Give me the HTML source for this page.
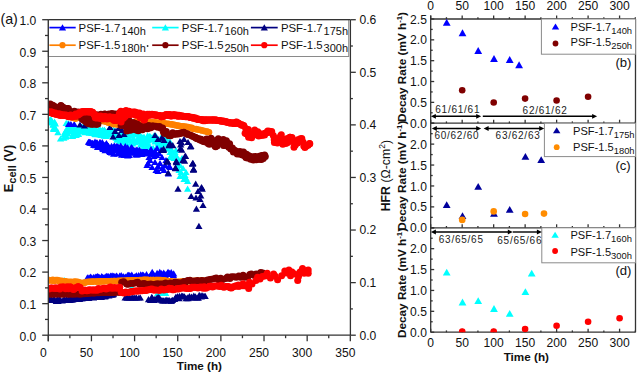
<!DOCTYPE html>
<html><head><meta charset="utf-8"><style>
html,body{margin:0;padding:0;background:#fff;width:637px;height:373px;overflow:hidden;}
svg{display:block;}
text{font-family:"Liberation Sans",sans-serif;}
</style></head><body><svg width="637" height="373" viewBox="0 0 637 373" font-family='"Liberation Sans", sans-serif'><defs><clipPath id="cpm"><rect x="48.3" y="19.7" width="302" height="315.5"/></clipPath></defs><g clip-path="url(#cpm)"><path d="M48.6 117.4L52.2 123.6L45.0 123.6Z" fill="#00ffff"/><path d="M48.5 118.6L52.1 124.8L44.9 124.8Z" fill="#00ffff"/><path d="M49.8 118.7L53.4 124.9L46.2 124.9Z" fill="#00ffff"/><path d="M50.0 116.6L53.6 122.8L46.4 122.8Z" fill="#00ffff"/><path d="M50.9 116.6L54.5 122.8L47.3 122.8Z" fill="#00ffff"/><path d="M50.5 116.8L54.1 123.0L46.9 123.0Z" fill="#00ffff"/><path d="M52.4 119.2L56.0 125.4L48.8 125.4Z" fill="#00ffff"/><path d="M51.7 117.3L55.3 123.5L48.1 123.5Z" fill="#00ffff"/><path d="M53.5 121.6L57.1 127.8L49.9 127.8Z" fill="#00ffff"/><path d="M52.9 121.2L56.5 127.4L49.3 127.4Z" fill="#00ffff"/><path d="M53.5 125.9L57.1 132.1L49.9 132.1Z" fill="#00ffff"/><path d="M53.7 124.8L57.3 131.0L50.1 131.0Z" fill="#00ffff"/><path d="M54.5 118.6L58.1 124.8L50.9 124.8Z" fill="#00ffff"/><path d="M55.4 120.3L59.0 126.5L51.8 126.5Z" fill="#00ffff"/><path d="M55.8 125.4L59.4 131.6L52.2 131.6Z" fill="#00ffff"/><path d="M57.9 129.1L61.5 135.3L54.3 135.3Z" fill="#00ffff"/><path d="M60.5 135.4L64.1 141.6L56.9 141.6Z" fill="#00ffff"/><path d="M63.8 134.5L67.4 140.7L60.2 140.7Z" fill="#00ffff"/><path d="M64.1 131.1L67.7 137.3L60.5 137.3Z" fill="#00ffff"/><path d="M64.9 128.8L68.5 135.0L61.3 135.0Z" fill="#00ffff"/><path d="M65.5 133.5L69.1 139.7L61.9 139.7Z" fill="#00ffff"/><path d="M66.2 127.0L69.8 133.2L62.6 133.2Z" fill="#00ffff"/><path d="M66.2 119.8L69.8 126.0L62.6 126.0Z" fill="#00ffff"/><path d="M67.6 129.8L71.2 136.0L64.0 136.0Z" fill="#00ffff"/><path d="M66.7 132.7L70.3 138.9L63.1 138.9Z" fill="#00ffff"/><path d="M68.2 125.6L71.8 131.8L64.6 131.8Z" fill="#00ffff"/><path d="M68.0 120.0L71.6 126.2L64.4 126.2Z" fill="#00ffff"/><path d="M68.5 122.5L72.1 128.7L64.9 128.7Z" fill="#00ffff"/><path d="M69.3 120.9L72.9 127.1L65.7 127.1Z" fill="#00ffff"/><path d="M69.7 122.2L73.3 128.4L66.1 128.4Z" fill="#00ffff"/><path d="M70.4 125.9L74.0 132.1L66.8 132.1Z" fill="#00ffff"/><path d="M70.9 121.8L74.5 128.0L67.3 128.0Z" fill="#00ffff"/><path d="M71.5 128.1L75.1 134.3L67.9 134.3Z" fill="#00ffff"/><path d="M72.4 131.4L76.0 137.6L68.8 137.6Z" fill="#00ffff"/><path d="M71.9 124.6L75.5 130.8L68.3 130.8Z" fill="#00ffff"/><path d="M73.5 125.7L77.1 131.9L69.9 131.9Z" fill="#00ffff"/><path d="M72.6 132.8L76.2 139.0L69.0 139.0Z" fill="#00ffff"/><path d="M73.7 123.8L77.3 130.0L70.1 130.0Z" fill="#00ffff"/><path d="M74.0 124.5L77.6 130.7L70.4 130.7Z" fill="#00ffff"/><path d="M74.7 128.3L78.3 134.5L71.1 134.5Z" fill="#00ffff"/><path d="M74.9 122.3L78.5 128.5L71.3 128.5Z" fill="#00ffff"/><path d="M76.1 126.2L79.7 132.4L72.5 132.4Z" fill="#00ffff"/><path d="M76.2 131.7L79.8 137.9L72.6 137.9Z" fill="#00ffff"/><path d="M77.1 127.5L80.7 133.7L73.5 133.7Z" fill="#00ffff"/><path d="M76.5 129.0L80.1 135.2L72.9 135.2Z" fill="#00ffff"/><path d="M78.3 130.7L81.9 136.9L74.7 136.9Z" fill="#00ffff"/><path d="M78.4 130.5L82.0 136.7L74.8 136.7Z" fill="#00ffff"/><path d="M78.9 126.4L82.5 132.6L75.3 132.6Z" fill="#00ffff"/><path d="M79.2 124.1L82.8 130.3L75.6 130.3Z" fill="#00ffff"/><path d="M79.5 123.9L83.1 130.1L75.9 130.1Z" fill="#00ffff"/><path d="M79.6 125.0L83.2 131.2L76.0 131.2Z" fill="#00ffff"/><path d="M80.5 126.0L84.1 132.2L76.9 132.2Z" fill="#00ffff"/><path d="M80.6 123.5L84.2 129.7L77.0 129.7Z" fill="#00ffff"/><path d="M81.8 124.3L85.4 130.5L78.2 130.5Z" fill="#00ffff"/><path d="M82.4 123.8L86.0 130.0L78.8 130.0Z" fill="#00ffff"/><path d="M82.6 127.8L86.2 134.0L79.0 134.0Z" fill="#00ffff"/><path d="M82.8 125.4L86.4 131.6L79.2 131.6Z" fill="#00ffff"/><path d="M83.5 126.1L87.1 132.3L79.9 132.3Z" fill="#00ffff"/><path d="M84.6 129.1L88.2 135.3L81.0 135.3Z" fill="#00ffff"/><path d="M85.0 126.7L88.6 132.9L81.4 132.9Z" fill="#00ffff"/><path d="M84.5 124.5L88.1 130.7L80.9 130.7Z" fill="#00ffff"/><path d="M85.7 126.1L89.3 132.3L82.1 132.3Z" fill="#00ffff"/><path d="M85.6 128.9L89.2 135.1L82.0 135.1Z" fill="#00ffff"/><path d="M87.5 124.4L91.1 130.6L83.9 130.6Z" fill="#00ffff"/><path d="M86.6 127.3L90.2 133.5L83.0 133.5Z" fill="#00ffff"/><path d="M87.4 127.5L91.0 133.7L83.8 133.7Z" fill="#00ffff"/><path d="M88.6 127.4L92.2 133.6L85.0 133.6Z" fill="#00ffff"/><path d="M89.2 129.5L92.8 135.7L85.6 135.7Z" fill="#00ffff"/><path d="M88.8 126.0L92.4 132.2L85.2 132.2Z" fill="#00ffff"/><path d="M90.3 125.6L93.9 131.8L86.7 131.8Z" fill="#00ffff"/><path d="M90.3 127.7L93.9 133.9L86.7 133.9Z" fill="#00ffff"/><path d="M90.7 126.7L94.3 132.9L87.1 132.9Z" fill="#00ffff"/><path d="M91.6 129.5L95.2 135.7L88.0 135.7Z" fill="#00ffff"/><path d="M92.4 129.8L96.0 136.0L88.8 136.0Z" fill="#00ffff"/><path d="M92.3 129.6L95.9 135.8L88.7 135.8Z" fill="#00ffff"/><path d="M93.0 126.3L96.6 132.5L89.4 132.5Z" fill="#00ffff"/><path d="M92.4 127.1L96.0 133.3L88.8 133.3Z" fill="#00ffff"/><path d="M93.7 125.2L97.3 131.4L90.1 131.4Z" fill="#00ffff"/><path d="M94.2 126.6L97.8 132.8L90.6 132.8Z" fill="#00ffff"/><path d="M94.9 130.8L98.5 137.0L91.3 137.0Z" fill="#00ffff"/><path d="M95.6 130.7L99.2 136.9L92.0 136.9Z" fill="#00ffff"/><path d="M95.8 131.0L99.4 137.2L92.2 137.2Z" fill="#00ffff"/><path d="M95.7 126.5L99.3 132.7L92.1 132.7Z" fill="#00ffff"/><path d="M96.6 126.5L100.2 132.7L93.0 132.7Z" fill="#00ffff"/><path d="M97.5 129.1L101.1 135.3L93.9 135.3Z" fill="#00ffff"/><path d="M98.0 130.5L101.6 136.7L94.4 136.7Z" fill="#00ffff"/><path d="M98.4 129.4L102.0 135.6L94.8 135.6Z" fill="#00ffff"/><path d="M99.2 126.0L102.8 132.2L95.6 132.2Z" fill="#00ffff"/><path d="M99.3 131.1L102.9 137.3L95.7 137.3Z" fill="#00ffff"/><path d="M100.0 130.2L103.6 136.4L96.4 136.4Z" fill="#00ffff"/><path d="M100.3 126.6L103.9 132.8L96.7 132.8Z" fill="#00ffff"/><path d="M101.4 127.7L105.0 133.9L97.8 133.9Z" fill="#00ffff"/><path d="M100.9 131.8L104.5 138.0L97.3 138.0Z" fill="#00ffff"/><path d="M102.5 128.3L106.1 134.5L98.9 134.5Z" fill="#00ffff"/><path d="M101.6 130.4L105.2 136.6L98.0 136.6Z" fill="#00ffff"/><path d="M102.6 126.5L106.2 132.7L99.0 132.7Z" fill="#00ffff"/><path d="M103.4 131.8L107.0 138.0L99.8 138.0Z" fill="#00ffff"/><path d="M104.4 126.7L108.0 132.9L100.8 132.9Z" fill="#00ffff"/><path d="M104.2 132.6L107.8 138.8L100.6 138.8Z" fill="#00ffff"/><path d="M105.1 128.3L108.7 134.5L101.5 134.5Z" fill="#00ffff"/><path d="M104.4 126.7L108.0 132.9L100.8 132.9Z" fill="#00ffff"/><path d="M106.2 132.9L109.8 139.1L102.6 139.1Z" fill="#00ffff"/><path d="M106.5 129.7L110.1 135.9L102.9 135.9Z" fill="#00ffff"/><path d="M107.4 129.1L111.0 135.3L103.8 135.3Z" fill="#00ffff"/><path d="M106.7 132.1L110.3 138.3L103.1 138.3Z" fill="#00ffff"/><path d="M107.8 127.9L111.4 134.1L104.2 134.1Z" fill="#00ffff"/><path d="M108.1 127.8L111.7 134.0L104.5 134.0Z" fill="#00ffff"/><path d="M108.9 128.0L112.5 134.2L105.3 134.2Z" fill="#00ffff"/><path d="M109.5 127.0L113.1 133.2L105.9 133.2Z" fill="#00ffff"/><path d="M109.9 129.0L113.5 135.2L106.3 135.2Z" fill="#00ffff"/><path d="M110.5 130.9L114.1 137.1L106.9 137.1Z" fill="#00ffff"/><path d="M111.5 129.8L115.1 136.0L107.9 136.0Z" fill="#00ffff"/><path d="M111.0 130.5L114.6 136.7L107.4 136.7Z" fill="#00ffff"/><path d="M111.4 130.9L115.0 137.1L107.8 137.1Z" fill="#00ffff"/><path d="M111.6 130.2L115.2 136.4L108.0 136.4Z" fill="#00ffff"/><path d="M113.4 126.4L117.0 132.6L109.8 132.6Z" fill="#00ffff"/><path d="M113.0 128.0L116.6 134.2L109.4 134.2Z" fill="#00ffff"/><path d="M114.1 133.4L117.7 139.6L110.5 139.6Z" fill="#00ffff"/><path d="M114.0 129.6L117.6 135.8L110.4 135.8Z" fill="#00ffff"/><path d="M115.3 132.1L118.9 138.3L111.7 138.3Z" fill="#00ffff"/><path d="M115.1 127.6L118.7 133.8L111.5 133.8Z" fill="#00ffff"/><path d="M115.7 129.2L119.3 135.4L112.1 135.4Z" fill="#00ffff"/><path d="M116.0 134.6L119.6 140.8L112.4 140.8Z" fill="#00ffff"/><path d="M117.3 132.7L120.9 138.9L113.7 138.9Z" fill="#00ffff"/><path d="M116.9 136.5L120.5 142.7L113.3 142.7Z" fill="#00ffff"/><path d="M118.0 133.6L121.6 139.8L114.4 139.8Z" fill="#00ffff"/><path d="M118.2 132.5L121.8 138.7L114.6 138.7Z" fill="#00ffff"/><path d="M119.0 132.1L122.6 138.3L115.4 138.3Z" fill="#00ffff"/><path d="M119.5 132.4L123.1 138.6L115.9 138.6Z" fill="#00ffff"/><path d="M120.5 135.3L124.1 141.5L116.9 141.5Z" fill="#00ffff"/><path d="M119.7 138.1L123.3 144.3L116.1 144.3Z" fill="#00ffff"/><path d="M121.5 133.8L125.1 140.0L117.9 140.0Z" fill="#00ffff"/><path d="M120.6 137.2L124.2 143.4L117.0 143.4Z" fill="#00ffff"/><path d="M121.9 128.8L125.5 135.0L118.3 135.0Z" fill="#00ffff"/><path d="M121.7 128.2L125.3 134.4L118.1 134.4Z" fill="#00ffff"/><path d="M123.2 128.4L126.8 134.6L119.6 134.6Z" fill="#00ffff"/><path d="M123.5 137.1L127.1 143.3L119.9 143.3Z" fill="#00ffff"/><path d="M124.3 129.5L127.9 135.7L120.7 135.7Z" fill="#00ffff"/><path d="M123.6 135.8L127.2 142.0L120.0 142.0Z" fill="#00ffff"/><path d="M125.6 138.9L129.2 145.1L122.0 145.1Z" fill="#00ffff"/><path d="M125.5 130.5L129.1 136.7L121.9 136.7Z" fill="#00ffff"/><path d="M126.0 133.0L129.6 139.2L122.4 139.2Z" fill="#00ffff"/><path d="M126.4 140.5L130.0 146.7L122.8 146.7Z" fill="#00ffff"/><path d="M126.9 130.2L130.5 136.4L123.3 136.4Z" fill="#00ffff"/><path d="M126.8 134.7L130.4 140.9L123.2 140.9Z" fill="#00ffff"/><path d="M127.8 130.8L131.4 137.0L124.2 137.0Z" fill="#00ffff"/><path d="M127.4 137.6L131.0 143.8L123.8 143.8Z" fill="#00ffff"/><path d="M128.9 135.7L132.5 141.9L125.3 141.9Z" fill="#00ffff"/><path d="M128.8 128.6L132.4 134.8L125.2 134.8Z" fill="#00ffff"/><path d="M130.0 136.9L133.6 143.1L126.4 143.1Z" fill="#00ffff"/><path d="M130.6 129.4L134.2 135.6L127.0 135.6Z" fill="#00ffff"/><path d="M131.6 139.3L135.2 145.5L128.0 145.5Z" fill="#00ffff"/><path d="M130.7 130.1L134.3 136.3L127.1 136.3Z" fill="#00ffff"/><path d="M132.3 129.4L135.9 135.6L128.7 135.6Z" fill="#00ffff"/><path d="M131.6 132.5L135.2 138.7L128.0 138.7Z" fill="#00ffff"/><path d="M133.5 134.8L137.1 141.0L129.9 141.0Z" fill="#00ffff"/><path d="M132.7 140.3L136.3 146.5L129.1 146.5Z" fill="#00ffff"/><path d="M134.5 131.2L138.1 137.4L130.9 137.4Z" fill="#00ffff"/><path d="M134.2 137.1L137.8 143.3L130.6 143.3Z" fill="#00ffff"/><path d="M134.5 130.5L138.1 136.7L130.9 136.7Z" fill="#00ffff"/><path d="M134.9 139.0L138.5 145.2L131.3 145.2Z" fill="#00ffff"/><path d="M136.5 130.4L140.1 136.6L132.9 136.6Z" fill="#00ffff"/><path d="M136.4 138.5L140.0 144.7L132.8 144.7Z" fill="#00ffff"/><path d="M137.4 130.7L141.0 136.9L133.8 136.9Z" fill="#00ffff"/><path d="M137.4 130.5L141.0 136.7L133.8 136.7Z" fill="#00ffff"/><path d="M137.8 136.3L141.4 142.5L134.2 142.5Z" fill="#00ffff"/><path d="M138.5 137.8L142.1 144.0L134.9 144.0Z" fill="#00ffff"/><path d="M138.6 133.7L142.2 139.9L135.0 139.9Z" fill="#00ffff"/><path d="M138.7 137.6L142.3 143.8L135.1 143.8Z" fill="#00ffff"/><path d="M139.6 131.5L143.2 137.7L136.0 137.7Z" fill="#00ffff"/><path d="M139.6 130.6L143.2 136.8L136.0 136.8Z" fill="#00ffff"/><path d="M140.8 134.8L144.4 141.0L137.2 141.0Z" fill="#00ffff"/><path d="M140.7 141.6L144.3 147.8L137.1 147.8Z" fill="#00ffff"/><path d="M141.6 137.8L145.2 144.0L138.0 144.0Z" fill="#00ffff"/><path d="M141.4 135.5L145.0 141.7L137.8 141.7Z" fill="#00ffff"/><path d="M142.4 134.2L146.0 140.4L138.8 140.4Z" fill="#00ffff"/><path d="M143.1 141.4L146.7 147.6L139.5 147.6Z" fill="#00ffff"/><path d="M144.0 133.5L147.6 139.7L140.4 139.7Z" fill="#00ffff"/><path d="M143.5 144.5L147.1 150.7L139.9 150.7Z" fill="#00ffff"/><path d="M144.9 142.9L148.5 149.1L141.3 149.1Z" fill="#00ffff"/><path d="M145.4 138.1L149.0 144.3L141.8 144.3Z" fill="#00ffff"/><path d="M146.0 136.8L149.6 143.0L142.4 143.0Z" fill="#00ffff"/><path d="M146.6 141.1L150.2 147.3L143.0 147.3Z" fill="#00ffff"/><path d="M147.4 136.2L151.0 142.4L143.8 142.4Z" fill="#00ffff"/><path d="M147.2 141.4L150.8 147.6L143.6 147.6Z" fill="#00ffff"/><path d="M147.8 137.3L151.4 143.5L144.2 143.5Z" fill="#00ffff"/><path d="M147.6 132.3L151.2 138.5L144.0 138.5Z" fill="#00ffff"/><path d="M149.3 132.8L152.9 139.0L145.7 139.0Z" fill="#00ffff"/><path d="M148.6 135.3L152.2 141.5L145.0 141.5Z" fill="#00ffff"/><path d="M150.4 133.2L154.0 139.4L146.8 139.4Z" fill="#00ffff"/><path d="M150.2 144.0L153.8 150.2L146.6 150.2Z" fill="#00ffff"/><path d="M150.7 135.9L154.3 142.1L147.1 142.1Z" fill="#00ffff"/><path d="M151.0 136.1L154.6 142.3L147.4 142.3Z" fill="#00ffff"/><path d="M151.9 134.3L155.5 140.5L148.3 140.5Z" fill="#00ffff"/><path d="M152.6 135.7L156.2 141.9L149.0 141.9Z" fill="#00ffff"/><path d="M153.1 144.8L156.7 151.0L149.5 151.0Z" fill="#00ffff"/><path d="M153.6 135.5L157.2 141.7L150.0 141.7Z" fill="#00ffff"/><path d="M153.8 136.3L157.4 142.5L150.2 142.5Z" fill="#00ffff"/><path d="M153.9 132.4L157.5 138.6L150.3 138.6Z" fill="#00ffff"/><path d="M155.0 138.3L158.6 144.5L151.4 144.5Z" fill="#00ffff"/><path d="M155.0 135.0L158.6 141.2L151.4 141.2Z" fill="#00ffff"/><path d="M155.7 132.7L159.3 138.9L152.1 138.9Z" fill="#00ffff"/><path d="M155.9 133.7L159.5 139.9L152.3 139.9Z" fill="#00ffff"/><path d="M156.4 133.2L160.0 139.4L152.8 139.4Z" fill="#00ffff"/><path d="M156.7 136.3L160.3 142.5L153.1 142.5Z" fill="#00ffff"/><path d="M158.0 139.5L161.6 145.7L154.4 145.7Z" fill="#00ffff"/><path d="M158.2 141.4L161.8 147.6L154.6 147.6Z" fill="#00ffff"/><path d="M159.5 140.8L163.1 147.0L155.9 147.0Z" fill="#00ffff"/><path d="M158.8 137.2L162.4 143.4L155.2 143.4Z" fill="#00ffff"/><path d="M159.6 143.6L163.2 149.8L156.0 149.8Z" fill="#00ffff"/><path d="M160.2 140.8L163.8 147.0L156.6 147.0Z" fill="#00ffff"/><path d="M161.4 133.6L165.0 139.8L157.8 139.8Z" fill="#00ffff"/><path d="M161.2 142.3L164.8 148.5L157.6 148.5Z" fill="#00ffff"/><path d="M162.4 140.4L166.0 146.6L158.8 146.6Z" fill="#00ffff"/><path d="M162.0 134.7L165.6 140.9L158.4 140.9Z" fill="#00ffff"/><path d="M163.4 138.1L167.0 144.3L159.8 144.3Z" fill="#00ffff"/><path d="M163.4 140.8L167.0 147.0L159.8 147.0Z" fill="#00ffff"/><path d="M164.5 138.7L168.1 144.9L160.9 144.9Z" fill="#00ffff"/><path d="M164.2 139.5L167.8 145.7L160.6 145.7Z" fill="#00ffff"/><path d="M164.4 135.8L168.0 142.0L160.8 142.0Z" fill="#00ffff"/><path d="M164.8 135.0L168.4 141.2L161.2 141.2Z" fill="#00ffff"/><path d="M166.4 135.5L170.0 141.7L162.8 141.7Z" fill="#00ffff"/><path d="M166.2 139.4L169.8 145.6L162.6 145.6Z" fill="#00ffff"/><path d="M167.2 141.1L170.8 147.3L163.6 147.3Z" fill="#00ffff"/><path d="M166.4 139.8L170.0 146.0L162.8 146.0Z" fill="#00ffff"/><path d="M168.3 143.9L171.9 150.1L164.7 150.1Z" fill="#00ffff"/><path d="M168.0 140.9L171.6 147.1L164.4 147.1Z" fill="#00ffff"/><path d="M168.5 143.7L172.1 149.9L164.9 149.9Z" fill="#00ffff"/><path d="M168.7 144.5L172.3 150.7L165.1 150.7Z" fill="#00ffff"/><path d="M169.7 137.9L173.3 144.1L166.1 144.1Z" fill="#00ffff"/><path d="M169.6 145.6L173.2 151.8L166.0 151.8Z" fill="#00ffff"/><path d="M68.6 120.9L72.2 127.1L65.0 127.1Z" fill="#0000ff"/><path d="M70.9 120.9L74.5 127.1L67.3 127.1Z" fill="#0000ff"/><path d="M74.2 120.9L77.8 127.1L70.6 127.1Z" fill="#0000ff"/><path d="M89.1 138.7L92.7 144.8L85.5 144.8Z" fill="#0000ff"/><path d="M88.5 138.7L92.1 144.8L84.9 144.8Z" fill="#0000ff"/><path d="M89.7 139.0L93.3 145.2L86.1 145.2Z" fill="#0000ff"/><path d="M89.8 139.0L93.4 145.2L86.2 145.2Z" fill="#0000ff"/><path d="M90.4 139.3L94.0 145.5L86.8 145.5Z" fill="#0000ff"/><path d="M90.7 139.2L94.3 145.4L87.1 145.4Z" fill="#0000ff"/><path d="M92.2 139.9L95.8 146.1L88.6 146.1Z" fill="#0000ff"/><path d="M91.7 139.9L95.3 146.1L88.1 146.1Z" fill="#0000ff"/><path d="M93.0 140.0L96.6 146.2L89.4 146.2Z" fill="#0000ff"/><path d="M92.5 139.9L96.1 146.1L88.9 146.1Z" fill="#0000ff"/><path d="M93.6 141.6L97.2 147.8L90.0 147.8Z" fill="#0000ff"/><path d="M94.5 141.9L98.1 148.1L90.9 148.1Z" fill="#0000ff"/><path d="M95.0 138.6L98.6 144.8L91.4 144.8Z" fill="#0000ff"/><path d="M95.6 142.0L99.2 148.2L92.0 148.2Z" fill="#0000ff"/><path d="M95.7 140.7L99.3 146.9L92.1 146.9Z" fill="#0000ff"/><path d="M96.5 139.5L100.1 145.7L92.9 145.7Z" fill="#0000ff"/><path d="M97.1 139.7L100.7 145.9L93.5 145.9Z" fill="#0000ff"/><path d="M97.0 139.3L100.6 145.5L93.4 145.5Z" fill="#0000ff"/><path d="M97.6 143.8L101.2 150.0L94.0 150.0Z" fill="#0000ff"/><path d="M98.0 143.1L101.6 149.3L94.4 149.3Z" fill="#0000ff"/><path d="M99.2 143.9L102.8 150.1L95.6 150.1Z" fill="#0000ff"/><path d="M99.5 140.0L103.1 146.2L95.9 146.2Z" fill="#0000ff"/><path d="M99.4 141.8L103.0 148.0L95.8 148.0Z" fill="#0000ff"/><path d="M100.0 138.8L103.6 145.0L96.4 145.0Z" fill="#0000ff"/><path d="M100.8 141.8L104.4 148.0L97.2 148.0Z" fill="#0000ff"/><path d="M100.8 139.7L104.4 145.9L97.2 145.9Z" fill="#0000ff"/><path d="M102.4 141.0L106.0 147.2L98.8 147.2Z" fill="#0000ff"/><path d="M102.3 138.9L105.9 145.1L98.7 145.1Z" fill="#0000ff"/><path d="M102.5 145.1L106.1 151.3L98.9 151.3Z" fill="#0000ff"/><path d="M103.3 145.7L106.9 151.9L99.7 151.9Z" fill="#0000ff"/><path d="M103.7 145.9L107.3 152.1L100.1 152.1Z" fill="#0000ff"/><path d="M103.9 141.8L107.5 148.0L100.3 148.0Z" fill="#0000ff"/><path d="M105.1 147.1L108.7 153.3L101.5 153.3Z" fill="#0000ff"/><path d="M104.9 141.9L108.5 148.1L101.3 148.1Z" fill="#0000ff"/><path d="M105.5 141.4L109.1 147.6L101.9 147.6Z" fill="#0000ff"/><path d="M106.4 139.9L110.0 146.1L102.8 146.1Z" fill="#0000ff"/><path d="M107.5 141.7L111.1 147.9L103.9 147.9Z" fill="#0000ff"/><path d="M106.7 141.4L110.3 147.6L103.1 147.6Z" fill="#0000ff"/><path d="M107.6 144.0L111.2 150.2L104.0 150.2Z" fill="#0000ff"/><path d="M108.5 142.7L112.1 148.9L104.9 148.9Z" fill="#0000ff"/><path d="M109.4 147.8L113.0 154.0L105.8 154.0Z" fill="#0000ff"/><path d="M109.5 145.4L113.1 151.6L105.9 151.6Z" fill="#0000ff"/><path d="M110.1 148.8L113.7 155.0L106.5 155.0Z" fill="#0000ff"/><path d="M109.5 146.6L113.1 152.8L105.9 152.8Z" fill="#0000ff"/><path d="M110.9 147.0L114.5 153.2L107.3 153.2Z" fill="#0000ff"/><path d="M111.2 147.3L114.8 153.5L107.6 153.5Z" fill="#0000ff"/><path d="M111.5 142.8L115.1 149.0L107.9 149.0Z" fill="#0000ff"/><path d="M111.6 149.4L115.2 155.6L108.0 155.6Z" fill="#0000ff"/><path d="M112.8 145.0L116.4 151.2L109.2 151.2Z" fill="#0000ff"/><path d="M113.3 143.2L116.9 149.4L109.7 149.4Z" fill="#0000ff"/><path d="M113.7 150.6L117.3 156.8L110.1 156.8Z" fill="#0000ff"/><path d="M113.8 147.2L117.4 153.4L110.2 153.4Z" fill="#0000ff"/><path d="M114.9 146.4L118.5 152.6L111.3 152.6Z" fill="#0000ff"/><path d="M114.6 142.4L118.2 148.6L111.0 148.6Z" fill="#0000ff"/><path d="M116.5 143.0L120.1 149.2L112.9 149.2Z" fill="#0000ff"/><path d="M115.7 146.0L119.3 152.2L112.1 152.2Z" fill="#0000ff"/><path d="M117.6 150.4L121.2 156.6L114.0 156.6Z" fill="#0000ff"/><path d="M116.6 145.6L120.2 151.8L113.0 151.8Z" fill="#0000ff"/><path d="M117.5 143.2L121.1 149.4L113.9 149.4Z" fill="#0000ff"/><path d="M117.5 144.7L121.1 150.9L113.9 150.9Z" fill="#0000ff"/><path d="M118.7 143.8L122.3 150.0L115.1 150.0Z" fill="#0000ff"/><path d="M119.5 147.2L123.1 153.4L115.9 153.4Z" fill="#0000ff"/><path d="M119.9 149.2L123.5 155.4L116.3 155.4Z" fill="#0000ff"/><path d="M120.0 145.8L123.6 152.0L116.4 152.0Z" fill="#0000ff"/><path d="M120.8 145.6L124.4 151.8L117.2 151.8Z" fill="#0000ff"/><path d="M120.7 142.4L124.3 148.6L117.1 148.6Z" fill="#0000ff"/><path d="M121.6 151.6L125.2 157.8L118.0 157.8Z" fill="#0000ff"/><path d="M122.2 147.0L125.8 153.2L118.6 153.2Z" fill="#0000ff"/><path d="M122.7 150.7L126.3 156.9L119.1 156.9Z" fill="#0000ff"/><path d="M122.7 144.9L126.3 151.1L119.1 151.1Z" fill="#0000ff"/><path d="M123.9 146.3L127.5 152.5L120.3 152.5Z" fill="#0000ff"/><path d="M124.4 151.8L128.0 158.0L120.8 158.0Z" fill="#0000ff"/><path d="M124.4 151.1L128.0 157.3L120.8 157.3Z" fill="#0000ff"/><path d="M125.3 142.9L128.9 149.1L121.7 149.1Z" fill="#0000ff"/><path d="M126.0 151.5L129.6 157.7L122.4 157.7Z" fill="#0000ff"/><path d="M125.4 148.5L129.0 154.7L121.8 154.7Z" fill="#0000ff"/><path d="M127.5 146.8L131.1 153.0L123.9 153.0Z" fill="#0000ff"/><path d="M127.4 150.9L131.0 157.1L123.8 157.1Z" fill="#0000ff"/><path d="M127.7 152.2L131.3 158.4L124.1 158.4Z" fill="#0000ff"/><path d="M127.6 144.2L131.2 150.4L124.0 150.4Z" fill="#0000ff"/><path d="M129.2 148.1L132.8 154.3L125.6 154.3Z" fill="#0000ff"/><path d="M129.3 151.9L132.9 158.1L125.7 158.1Z" fill="#0000ff"/><path d="M130.3 149.2L133.9 155.4L126.7 155.4Z" fill="#0000ff"/><path d="M130.1 147.6L133.7 153.8L126.5 153.8Z" fill="#0000ff"/><path d="M131.3 144.1L134.9 150.3L127.7 150.3Z" fill="#0000ff"/><path d="M131.5 145.7L135.1 151.9L127.9 151.9Z" fill="#0000ff"/><path d="M131.8 149.2L135.4 155.4L128.2 155.4Z" fill="#0000ff"/><path d="M131.7 145.0L135.3 151.2L128.1 151.2Z" fill="#0000ff"/><path d="M133.2 149.1L136.8 155.3L129.6 155.3Z" fill="#0000ff"/><path d="M132.5 145.0L136.1 151.2L128.9 151.2Z" fill="#0000ff"/><path d="M134.1 148.3L137.7 154.5L130.5 154.5Z" fill="#0000ff"/><path d="M133.7 147.3L137.3 153.5L130.1 153.5Z" fill="#0000ff"/><path d="M134.4 148.9L138.0 155.1L130.8 155.1Z" fill="#0000ff"/><path d="M135.0 146.7L138.6 152.9L131.4 152.9Z" fill="#0000ff"/><path d="M136.2 151.4L139.8 157.6L132.6 157.6Z" fill="#0000ff"/><path d="M136.0 150.9L139.6 157.1L132.4 157.1Z" fill="#0000ff"/><path d="M136.7 146.5L140.3 152.7L133.1 152.7Z" fill="#0000ff"/><path d="M137.2 151.3L140.8 157.5L133.6 157.5Z" fill="#0000ff"/><path d="M137.4 147.1L141.0 153.3L133.8 153.3Z" fill="#0000ff"/><path d="M138.2 148.3L141.8 154.5L134.6 154.5Z" fill="#0000ff"/><path d="M138.7 147.8L142.3 154.0L135.1 154.0Z" fill="#0000ff"/><path d="M139.5 149.4L143.1 155.6L135.9 155.6Z" fill="#0000ff"/><path d="M139.4 146.8L143.0 153.0L135.8 153.0Z" fill="#0000ff"/><path d="M139.9 147.4L143.5 153.6L136.3 153.6Z" fill="#0000ff"/><path d="M140.6 149.4L144.2 155.6L137.0 155.6Z" fill="#0000ff"/><path d="M141.3 150.1L144.9 156.3L137.7 156.3Z" fill="#0000ff"/><path d="M141.6 148.5L145.2 154.7L138.0 154.7Z" fill="#0000ff"/><path d="M141.8 150.9L145.4 157.1L138.2 157.1Z" fill="#0000ff"/><path d="M142.7 150.1L146.3 156.3L139.1 156.3Z" fill="#0000ff"/><path d="M143.3 147.2L146.9 153.4L139.7 153.4Z" fill="#0000ff"/><path d="M144.5 147.8L148.1 154.0L140.9 154.0Z" fill="#0000ff"/><path d="M143.6 148.7L147.2 154.9L140.0 154.9Z" fill="#0000ff"/><path d="M144.9 147.8L148.5 154.0L141.3 154.0Z" fill="#0000ff"/><path d="M145.5 149.5L149.1 155.7L141.9 155.7Z" fill="#0000ff"/><path d="M145.9 147.9L149.5 154.1L142.3 154.1Z" fill="#0000ff"/><path d="M146.6 148.1L150.2 154.3L143.0 154.3Z" fill="#0000ff"/><path d="M146.5 148.2L150.1 154.4L142.9 154.4Z" fill="#0000ff"/><path d="M146.9 148.0L150.5 154.2L143.3 154.2Z" fill="#0000ff"/><path d="M148.5 150.1L152.1 156.3L144.9 156.3Z" fill="#0000ff"/><path d="M148.6 149.8L152.2 156.0L145.0 156.0Z" fill="#0000ff"/><path d="M148.8 150.1L152.4 156.3L145.2 156.3Z" fill="#0000ff"/><path d="M149.5 149.0L153.1 155.2L145.9 155.2Z" fill="#0000ff"/><path d="M149.4 149.8L153.0 156.0L145.8 156.0Z" fill="#0000ff"/><path d="M149.9 149.7L153.5 155.9L146.3 155.9Z" fill="#0000ff"/><path d="M150.8 149.7L154.4 155.9L147.2 155.9Z" fill="#0000ff"/><path d="M150.4 149.6L154.0 155.8L146.8 155.8Z" fill="#0000ff"/><path d="M151.8 149.9L155.4 156.1L148.2 156.1Z" fill="#0000ff"/><path d="M151.5 149.9L155.1 156.1L147.9 156.1Z" fill="#0000ff"/><path d="M152.6 150.3L156.2 156.5L149.0 156.5Z" fill="#0000ff"/><path d="M153.4 150.3L157.0 156.5L149.8 156.5Z" fill="#0000ff"/><path d="M153.9 150.7L157.5 156.9L150.3 156.9Z" fill="#0000ff"/><path d="M154.0 150.7L157.6 156.9L150.4 156.9Z" fill="#0000ff"/><path d="M155.5 151.1L159.1 157.3L151.9 157.3Z" fill="#0000ff"/><path d="M154.8 151.1L158.4 157.3L151.2 157.3Z" fill="#0000ff"/><path d="M155.4 151.5L159.0 157.7L151.8 157.7Z" fill="#0000ff"/><path d="M156.4 151.5L160.0 157.7L152.8 157.7Z" fill="#0000ff"/><path d="M156.4 151.9L160.0 158.1L152.8 158.1Z" fill="#0000ff"/><path d="M156.5 151.9L160.1 158.1L152.9 158.1Z" fill="#0000ff"/><path d="M172.0 146.9L175.6 153.1L168.4 153.1Z" fill="#00ffff"/><path d="M176.0 151.9L179.6 158.1L172.4 158.1Z" fill="#00ffff"/><path d="M178.0 156.9L181.6 163.1L174.4 163.1Z" fill="#00ffff"/><path d="M180.0 161.9L183.6 168.1L176.4 168.1Z" fill="#00ffff"/><path d="M183.0 164.9L186.6 171.1L179.4 171.1Z" fill="#00ffff"/><path d="M186.0 168.9L189.6 175.1L182.4 175.1Z" fill="#00ffff"/><path d="M180.0 172.9L183.6 179.1L176.4 179.1Z" fill="#00ffff"/><path d="M184.0 175.9L187.6 182.1L180.4 182.1Z" fill="#00ffff"/><path d="M187.6 177.9L191.2 184.1L184.0 184.1Z" fill="#00ffff"/><path d="M187.6 185.6L191.2 191.8L184.0 191.8Z" fill="#00ffff"/><path d="M175.0 148.9L178.6 155.1L171.4 155.1Z" fill="#00ffff"/><path d="M170.0 153.9L173.6 160.1L166.4 160.1Z" fill="#00ffff"/><path d="M182.0 154.9L185.6 161.1L178.4 161.1Z" fill="#00ffff"/><path d="M179.0 166.9L182.6 173.1L175.4 173.1Z" fill="#00ffff"/><path d="M185.0 171.9L188.6 178.1L181.4 178.1Z" fill="#00ffff"/><path d="M172.0 151.9L175.6 158.1L168.4 158.1Z" fill="#00ffff"/><path d="M174.0 154.9L177.6 161.1L170.4 161.1Z" fill="#00ffff"/><path d="M177.0 162.9L180.6 169.1L173.4 169.1Z" fill="#00ffff"/><path d="M181.0 168.9L184.6 175.1L177.4 175.1Z" fill="#00ffff"/><path d="M183.0 172.9L186.6 179.1L179.4 179.1Z" fill="#00ffff"/><path d="M186.0 174.9L189.6 181.1L182.4 181.1Z" fill="#00ffff"/><path d="M179.0 156.9L182.6 163.1L175.4 163.1Z" fill="#00ffff"/><path d="M176.0 146.9L179.6 153.1L172.4 153.1Z" fill="#00ffff"/><path d="M170.0 148.9L173.6 155.1L166.4 155.1Z" fill="#00ffff"/><path d="M141.0 140.9L144.6 147.1L137.4 147.1Z" fill="#00ffff"/><path d="M145.0 142.9L148.6 149.1L141.4 149.1Z" fill="#00ffff"/><path d="M149.0 141.9L152.6 148.1L145.4 148.1Z" fill="#00ffff"/><path d="M143.0 137.9L146.6 144.1L139.4 144.1Z" fill="#00ffff"/><path d="M150.0 156.9L153.6 163.1L146.4 163.1Z" fill="#0000ff"/><path d="M155.0 158.9L158.6 165.1L151.4 165.1Z" fill="#0000ff"/><path d="M160.0 159.9L163.6 166.1L156.4 166.1Z" fill="#0000ff"/><path d="M147.0 161.9L150.6 168.1L143.4 168.1Z" fill="#0000ff"/><path d="M152.0 163.9L155.6 170.1L148.4 170.1Z" fill="#0000ff"/><path d="M158.0 162.9L161.6 169.1L154.4 169.1Z" fill="#0000ff"/><path d="M165.0 161.9L168.6 168.1L161.4 168.1Z" fill="#0000ff"/><path d="M168.4 170.2L172.0 176.4L164.8 176.4Z" fill="#0000ff"/><path d="M162.0 164.9L165.6 171.1L158.4 171.1Z" fill="#0000ff"/><path d="M156.0 166.9L159.6 173.1L152.4 173.1Z" fill="#0000ff"/><path d="M170.0 163.9L173.6 170.1L166.4 170.1Z" fill="#0000ff"/><path d="M151.0 145.9L154.6 152.1L147.4 152.1Z" fill="#0000ff"/><path d="M155.0 147.9L158.6 154.1L151.4 154.1Z" fill="#0000ff"/><path d="M159.0 149.9L162.6 156.1L155.4 156.1Z" fill="#0000ff"/><path d="M154.0 152.9L157.6 159.1L150.4 159.1Z" fill="#0000ff"/><path d="M149.0 153.9L152.6 160.1L145.4 160.1Z" fill="#0000ff"/><path d="M162.0 153.9L165.6 160.1L158.4 160.1Z" fill="#0000ff"/><path d="M157.0 144.9L160.6 151.1L153.4 151.1Z" fill="#0000ff"/><path d="M161.0 146.9L164.6 153.1L157.4 153.1Z" fill="#0000ff"/><path d="M148.0 159.9L151.6 166.1L144.4 166.1Z" fill="#0000ff"/><path d="M166.0 156.9L169.6 163.1L162.4 163.1Z" fill="#0000ff"/><path d="M169.0 162.9L172.6 169.1L165.4 169.1Z" fill="#0000ff"/><path d="M164.0 166.9L167.6 173.1L160.4 173.1Z" fill="#0000ff"/><path d="M158.0 167.9L161.6 174.1L154.4 174.1Z" fill="#0000ff"/><path d="M198.9 222.7L202.5 228.9L195.3 228.9Z" fill="#000080"/><path d="M198.0 187.9L201.6 194.1L194.4 194.1Z" fill="#000080"/><path d="M201.5 183.9L205.1 190.1L197.9 190.1Z" fill="#000080"/><path d="M196.0 194.4L199.6 200.6L192.4 200.6Z" fill="#000080"/><path d="M163.6 145.5L167.2 151.7L160.0 151.7Z" fill="#000080"/><path d="M166.8 158.3L170.4 164.5L163.2 164.5Z" fill="#000080"/><path d="M170.0 140.1L173.6 146.3L166.4 146.3Z" fill="#000080"/><path d="M180.7 141.2L184.3 147.4L177.1 147.4Z" fill="#000080"/><path d="M181.8 146.5L185.4 152.7L178.2 152.7Z" fill="#000080"/><path d="M185.0 152.9L188.6 159.1L181.4 159.1Z" fill="#000080"/><path d="M190.4 143.3L194.0 149.5L186.8 149.5Z" fill="#000080"/><path d="M176.4 158.3L180.0 164.5L172.8 164.5Z" fill="#000080"/><path d="M175.4 164.8L179.0 171.0L171.8 171.0Z" fill="#000080"/><path d="M192.5 160.5L196.1 166.7L188.9 166.7Z" fill="#000080"/><path d="M193.6 165.8L197.2 172.0L190.0 172.0Z" fill="#000080"/><path d="M80.0 121.4L83.6 127.6L76.4 127.6Z" fill="#000080"/><path d="M84.5 122.4L88.1 128.6L80.9 128.6Z" fill="#000080"/><path d="M110.0 123.9L113.6 130.1L106.4 130.1Z" fill="#000080"/><path d="M115.0 127.9L118.6 134.1L111.4 134.1Z" fill="#000080"/><path d="M119.0 131.9L122.6 138.1L115.4 138.1Z" fill="#000080"/><path d="M122.0 126.9L125.6 133.1L118.4 133.1Z" fill="#000080"/><path d="M113.0 133.4L116.6 139.6L109.4 139.6Z" fill="#000080"/><path d="M118.5 124.9L122.1 131.1L114.9 131.1Z" fill="#000080"/><path d="M124.0 130.9L127.6 137.1L120.4 137.1Z" fill="#000080"/><path d="M162.0 134.2L165.6 140.4L158.4 140.4Z" fill="#000080"/><path d="M162.0 146.9L165.6 153.1L158.4 153.1Z" fill="#000080"/><path d="M162.1 134.6L165.7 140.8L158.5 140.8Z" fill="#000080"/><path d="M168.8 142.0L172.4 148.2L165.2 148.2Z" fill="#000080"/><path d="M163.5 146.7L167.1 152.9L159.9 152.9Z" fill="#000080"/><path d="M172.8 142.0L176.4 148.2L169.2 148.2Z" fill="#000080"/><path d="M181.6 139.3L185.2 145.5L178.0 145.5Z" fill="#000080"/><path d="M180.2 145.4L183.8 151.6L176.6 151.6Z" fill="#000080"/><path d="M190.9 142.7L194.5 148.9L187.3 148.9Z" fill="#000080"/><path d="M185.6 152.7L189.2 158.9L182.0 158.9Z" fill="#000080"/><path d="M182.9 156.8L186.5 163.0L179.3 163.0Z" fill="#000080"/><path d="M176.2 158.1L179.8 164.3L172.6 164.3Z" fill="#000080"/><path d="M167.5 158.1L171.1 164.3L163.9 164.3Z" fill="#000080"/><path d="M175.5 164.8L179.1 171.0L171.9 171.0Z" fill="#000080"/><path d="M193.0 160.1L196.6 166.3L189.4 166.3Z" fill="#000080"/><path d="M193.6 166.1L197.2 172.3L190.0 172.3Z" fill="#000080"/><path d="M168.2 169.5L171.8 175.7L164.6 175.7Z" fill="#000080"/><path d="M167.7 158.4L171.3 164.6L164.1 164.6Z" fill="#000080"/><path d="M176.5 159.1L180.1 165.3L172.9 165.3Z" fill="#000080"/><path d="M184.6 157.6L188.2 163.8L181.0 163.8Z" fill="#000080"/><path d="M192.7 159.9L196.3 166.1L189.1 166.1Z" fill="#000080"/><path d="M175.8 165.0L179.4 171.2L172.2 171.2Z" fill="#000080"/><path d="M193.4 166.5L197.0 172.7L189.8 172.7Z" fill="#000080"/><path d="M195.7 180.5L199.3 186.7L192.1 186.7Z" fill="#000080"/><path d="M178.0 185.6L181.6 191.8L174.4 191.8Z" fill="#000080"/><path d="M202.3 185.6L205.9 191.8L198.7 191.8Z" fill="#000080"/><path d="M191.2 192.9L194.8 199.1L187.6 199.1Z" fill="#000080"/><path d="M200.8 192.2L204.4 198.4L197.2 198.4Z" fill="#000080"/><path d="M200.0 195.9L203.6 202.1L196.4 202.1Z" fill="#000080"/><path d="M203.0 201.9L206.6 208.1L199.4 208.1Z" fill="#000080"/><path d="M196.4 205.5L200.0 211.7L192.8 211.7Z" fill="#000080"/><path d="M155.0 131.9L158.6 138.1L151.4 138.1Z" fill="#000080"/><path d="M158.0 135.9L161.6 142.1L154.4 142.1Z" fill="#000080"/><path d="M184.0 135.9L187.6 142.1L180.4 142.1Z" fill="#000080"/><path d="M188.0 138.9L191.6 145.1L184.4 145.1Z" fill="#000080"/><path d="M164.0 136.9L167.6 143.1L160.4 143.1Z" fill="#000080"/><path d="M180.0 137.9L183.6 144.1L176.4 144.1Z" fill="#000080"/><circle cx="48.7" cy="112.7" r="3.3" fill="#ff8000"/><circle cx="51.0" cy="112.9" r="3.3" fill="#ff8000"/><circle cx="51.7" cy="113.0" r="3.3" fill="#ff8000"/><circle cx="53.6" cy="113.5" r="3.3" fill="#ff8000"/><circle cx="55.3" cy="113.5" r="3.3" fill="#ff8000"/><circle cx="56.2" cy="113.8" r="3.3" fill="#ff8000"/><circle cx="58.3" cy="113.9" r="3.3" fill="#ff8000"/><circle cx="59.7" cy="114.5" r="3.3" fill="#ff8000"/><circle cx="60.4" cy="114.8" r="3.3" fill="#ff8000"/><circle cx="62.5" cy="114.8" r="3.3" fill="#ff8000"/><circle cx="64.5" cy="115.3" r="3.3" fill="#ff8000"/><circle cx="65.2" cy="115.4" r="3.3" fill="#ff8000"/><circle cx="67.0" cy="115.7" r="3.3" fill="#ff8000"/><circle cx="68.1" cy="116.5" r="3.3" fill="#ff8000"/><circle cx="70.3" cy="116.9" r="3.3" fill="#ff8000"/><circle cx="71.8" cy="117.4" r="3.3" fill="#ff8000"/><circle cx="72.8" cy="117.6" r="3.3" fill="#ff8000"/><circle cx="74.3" cy="117.5" r="3.3" fill="#ff8000"/><circle cx="75.5" cy="118.8" r="3.3" fill="#ff8000"/><circle cx="77.8" cy="117.4" r="3.3" fill="#ff8000"/><circle cx="78.5" cy="117.1" r="3.3" fill="#ff8000"/><circle cx="80.6" cy="116.6" r="3.3" fill="#ff8000"/><circle cx="82.6" cy="116.4" r="3.3" fill="#ff8000"/><circle cx="84.1" cy="116.8" r="3.3" fill="#ff8000"/><circle cx="84.5" cy="116.5" r="3.3" fill="#ff8000"/><circle cx="86.5" cy="116.4" r="3.3" fill="#ff8000"/><circle cx="87.9" cy="117.0" r="3.3" fill="#ff8000"/><circle cx="89.4" cy="116.6" r="3.3" fill="#ff8000"/><circle cx="91.2" cy="117.1" r="3.3" fill="#ff8000"/><circle cx="92.9" cy="117.3" r="3.3" fill="#ff8000"/><circle cx="93.5" cy="117.7" r="3.3" fill="#ff8000"/><circle cx="95.3" cy="118.6" r="3.3" fill="#ff8000"/><circle cx="96.8" cy="119.1" r="3.3" fill="#ff8000"/><circle cx="98.1" cy="119.9" r="3.3" fill="#ff8000"/><circle cx="99.7" cy="120.4" r="3.3" fill="#ff8000"/><circle cx="102.0" cy="120.6" r="3.3" fill="#ff8000"/><circle cx="102.8" cy="121.1" r="3.3" fill="#ff8000"/><circle cx="105.1" cy="121.3" r="3.3" fill="#ff8000"/><circle cx="105.7" cy="121.7" r="3.3" fill="#ff8000"/><circle cx="107.7" cy="122.2" r="3.3" fill="#ff8000"/><circle cx="108.5" cy="122.7" r="3.3" fill="#ff8000"/><circle cx="110.9" cy="123.0" r="3.3" fill="#ff8000"/><circle cx="112.5" cy="123.6" r="3.3" fill="#ff8000"/><circle cx="113.3" cy="124.1" r="3.3" fill="#ff8000"/><circle cx="114.6" cy="124.3" r="3.3" fill="#ff8000"/><circle cx="116.6" cy="124.3" r="3.3" fill="#ff8000"/><circle cx="117.8" cy="124.4" r="3.3" fill="#ff8000"/><circle cx="119.4" cy="124.4" r="3.3" fill="#ff8000"/><circle cx="121.3" cy="124.4" r="3.3" fill="#ff8000"/><circle cx="122.0" cy="124.6" r="3.3" fill="#ff8000"/><circle cx="124.1" cy="124.5" r="3.3" fill="#ff8000"/><circle cx="125.3" cy="124.4" r="3.3" fill="#ff8000"/><circle cx="126.6" cy="124.4" r="3.3" fill="#ff8000"/><circle cx="128.6" cy="124.4" r="3.3" fill="#ff8000"/><circle cx="129.6" cy="124.6" r="3.3" fill="#ff8000"/><circle cx="131.3" cy="124.3" r="3.3" fill="#ff8000"/><circle cx="132.6" cy="124.0" r="3.3" fill="#ff8000"/><circle cx="134.1" cy="123.0" r="3.3" fill="#ff8000"/><circle cx="136.1" cy="122.5" r="3.3" fill="#ff8000"/><circle cx="137.0" cy="121.4" r="3.3" fill="#ff8000"/><circle cx="139.1" cy="121.7" r="3.3" fill="#ff8000"/><circle cx="140.0" cy="121.9" r="3.3" fill="#ff8000"/><circle cx="142.2" cy="121.4" r="3.3" fill="#ff8000"/><circle cx="143.2" cy="121.7" r="3.3" fill="#ff8000"/><circle cx="145.5" cy="121.6" r="3.3" fill="#ff8000"/><circle cx="146.6" cy="121.6" r="3.3" fill="#ff8000"/><circle cx="147.9" cy="121.8" r="3.3" fill="#ff8000"/><circle cx="150.1" cy="122.3" r="3.3" fill="#ff8000"/><circle cx="150.6" cy="122.1" r="3.3" fill="#ff8000"/><circle cx="152.1" cy="122.4" r="3.3" fill="#ff8000"/><circle cx="154.5" cy="122.2" r="3.3" fill="#ff8000"/><circle cx="155.9" cy="122.5" r="3.3" fill="#ff8000"/><circle cx="157.5" cy="122.7" r="3.3" fill="#ff8000"/><circle cx="158.1" cy="122.9" r="3.3" fill="#ff8000"/><circle cx="160.1" cy="122.9" r="3.3" fill="#ff8000"/><circle cx="162.0" cy="123.2" r="3.3" fill="#ff8000"/><circle cx="163.1" cy="123.3" r="3.3" fill="#ff8000"/><circle cx="164.5" cy="123.5" r="3.3" fill="#ff8000"/><circle cx="165.7" cy="123.6" r="3.3" fill="#ff8000"/><circle cx="168.0" cy="123.8" r="3.3" fill="#ff8000"/><circle cx="169.0" cy="124.0" r="3.3" fill="#ff8000"/><circle cx="171.1" cy="124.2" r="3.3" fill="#ff8000"/><circle cx="171.6" cy="124.4" r="3.3" fill="#ff8000"/><circle cx="174.1" cy="124.8" r="3.3" fill="#ff8000"/><circle cx="174.5" cy="125.0" r="3.3" fill="#ff8000"/><circle cx="176.4" cy="125.4" r="3.3" fill="#ff8000"/><circle cx="178.1" cy="125.7" r="3.3" fill="#ff8000"/><circle cx="179.1" cy="125.9" r="3.3" fill="#ff8000"/><circle cx="180.7" cy="126.2" r="3.3" fill="#ff8000"/><circle cx="182.9" cy="126.2" r="3.3" fill="#ff8000"/><circle cx="183.6" cy="126.8" r="3.3" fill="#ff8000"/><circle cx="185.4" cy="126.6" r="3.3" fill="#ff8000"/><circle cx="186.9" cy="127.1" r="3.3" fill="#ff8000"/><circle cx="188.2" cy="127.0" r="3.3" fill="#ff8000"/><circle cx="190.5" cy="127.9" r="3.3" fill="#ff8000"/><circle cx="191.6" cy="127.7" r="3.3" fill="#ff8000"/><circle cx="192.4" cy="128.6" r="3.3" fill="#ff8000"/><circle cx="194.0" cy="129.0" r="3.3" fill="#ff8000"/><circle cx="196.1" cy="129.1" r="3.3" fill="#ff8000"/><circle cx="197.3" cy="129.5" r="3.3" fill="#ff8000"/><circle cx="199.1" cy="129.7" r="3.3" fill="#ff8000"/><circle cx="200.7" cy="130.1" r="3.3" fill="#ff8000"/><circle cx="201.9" cy="130.5" r="3.3" fill="#ff8000"/><circle cx="203.6" cy="130.7" r="3.3" fill="#ff8000"/><circle cx="204.7" cy="131.2" r="3.3" fill="#ff8000"/><circle cx="206.8" cy="131.6" r="3.3" fill="#ff8000"/><circle cx="207.6" cy="131.9" r="3.3" fill="#ff8000"/><circle cx="209.0" cy="132.3" r="3.3" fill="#ff8000"/><circle cx="48.9" cy="104.3" r="3.5" fill="#800000"/><circle cx="50.3" cy="104.1" r="3.5" fill="#800000"/><circle cx="51.2" cy="108.7" r="3.5" fill="#800000"/><circle cx="52.7" cy="110.1" r="3.5" fill="#800000"/><circle cx="54.9" cy="111.3" r="3.5" fill="#800000"/><circle cx="55.5" cy="109.2" r="3.5" fill="#800000"/><circle cx="57.3" cy="109.2" r="3.5" fill="#800000"/><circle cx="58.4" cy="113.9" r="3.5" fill="#800000"/><circle cx="60.8" cy="113.1" r="3.5" fill="#800000"/><circle cx="62.0" cy="112.2" r="3.5" fill="#800000"/><circle cx="63.6" cy="107.5" r="3.5" fill="#800000"/><circle cx="64.9" cy="110.7" r="3.5" fill="#800000"/><circle cx="65.4" cy="114.7" r="3.5" fill="#800000"/><circle cx="67.7" cy="113.9" r="3.5" fill="#800000"/><circle cx="68.4" cy="108.6" r="3.5" fill="#800000"/><circle cx="69.6" cy="114.1" r="3.5" fill="#800000"/><circle cx="71.1" cy="115.3" r="3.5" fill="#800000"/><circle cx="72.4" cy="114.9" r="3.5" fill="#800000"/><circle cx="74.7" cy="113.3" r="3.5" fill="#800000"/><circle cx="75.3" cy="112.1" r="3.5" fill="#800000"/><circle cx="76.8" cy="114.0" r="3.5" fill="#800000"/><circle cx="78.0" cy="111.9" r="3.5" fill="#800000"/><circle cx="80.3" cy="112.7" r="3.5" fill="#800000"/><circle cx="81.7" cy="115.3" r="3.5" fill="#800000"/><circle cx="82.9" cy="113.2" r="3.5" fill="#800000"/><circle cx="84.0" cy="113.2" r="3.5" fill="#800000"/><circle cx="85.2" cy="115.5" r="3.5" fill="#800000"/><circle cx="86.9" cy="116.6" r="3.5" fill="#800000"/><circle cx="88.7" cy="115.6" r="3.5" fill="#800000"/><circle cx="90.2" cy="114.0" r="3.5" fill="#800000"/><circle cx="90.9" cy="116.1" r="3.5" fill="#800000"/><circle cx="92.1" cy="116.8" r="3.5" fill="#800000"/><circle cx="93.9" cy="117.5" r="3.5" fill="#800000"/><circle cx="95.5" cy="115.4" r="3.5" fill="#800000"/><circle cx="96.2" cy="115.7" r="3.5" fill="#800000"/><circle cx="97.5" cy="116.7" r="3.5" fill="#800000"/><circle cx="99.1" cy="116.9" r="3.5" fill="#800000"/><circle cx="101.4" cy="116.3" r="3.5" fill="#800000"/><circle cx="102.4" cy="116.1" r="3.5" fill="#800000"/><circle cx="103.0" cy="115.0" r="3.5" fill="#800000"/><circle cx="104.6" cy="113.9" r="3.5" fill="#800000"/><circle cx="106.3" cy="116.0" r="3.5" fill="#800000"/><circle cx="108.3" cy="115.6" r="3.5" fill="#800000"/><circle cx="108.9" cy="114.0" r="3.5" fill="#800000"/><circle cx="110.0" cy="116.2" r="3.5" fill="#800000"/><circle cx="111.8" cy="113.5" r="3.5" fill="#800000"/><circle cx="113.2" cy="114.0" r="3.5" fill="#800000"/><circle cx="114.9" cy="114.5" r="3.5" fill="#800000"/><circle cx="115.8" cy="116.3" r="3.5" fill="#800000"/><circle cx="117.6" cy="116.5" r="3.5" fill="#800000"/><circle cx="119.5" cy="114.2" r="3.5" fill="#800000"/><circle cx="120.0" cy="117.3" r="3.5" fill="#800000"/><circle cx="122.0" cy="118.3" r="3.5" fill="#800000"/><circle cx="123.5" cy="124.4" r="3.5" fill="#800000"/><circle cx="124.3" cy="121.7" r="3.5" fill="#800000"/><circle cx="126.2" cy="119.5" r="3.5" fill="#800000"/><circle cx="127.2" cy="124.1" r="3.5" fill="#800000"/><circle cx="128.7" cy="125.4" r="3.5" fill="#800000"/><circle cx="130.5" cy="128.2" r="3.5" fill="#800000"/><circle cx="132.1" cy="123.6" r="3.5" fill="#800000"/><circle cx="133.0" cy="122.6" r="3.5" fill="#800000"/><circle cx="134.1" cy="126.0" r="3.5" fill="#800000"/><circle cx="136.1" cy="123.9" r="3.5" fill="#800000"/><circle cx="137.3" cy="123.9" r="3.5" fill="#800000"/><circle cx="138.2" cy="130.8" r="3.5" fill="#800000"/><circle cx="140.1" cy="125.7" r="3.5" fill="#800000"/><circle cx="141.6" cy="127.8" r="3.5" fill="#800000"/><circle cx="142.4" cy="129.7" r="3.5" fill="#800000"/><circle cx="144.0" cy="127.0" r="3.5" fill="#800000"/><circle cx="146.1" cy="125.7" r="3.5" fill="#800000"/><circle cx="147.3" cy="128.8" r="3.5" fill="#800000"/><circle cx="148.8" cy="125.5" r="3.5" fill="#800000"/><circle cx="149.8" cy="127.9" r="3.5" fill="#800000"/><circle cx="151.1" cy="127.5" r="3.5" fill="#800000"/><circle cx="152.1" cy="126.0" r="3.5" fill="#800000"/><circle cx="153.4" cy="126.0" r="3.5" fill="#800000"/><circle cx="155.7" cy="126.2" r="3.5" fill="#800000"/><circle cx="157.2" cy="126.9" r="3.5" fill="#800000"/><circle cx="157.9" cy="126.9" r="3.5" fill="#800000"/><circle cx="159.5" cy="126.6" r="3.5" fill="#800000"/><circle cx="161.0" cy="128.2" r="3.5" fill="#800000"/><circle cx="162.6" cy="128.1" r="3.5" fill="#800000"/><circle cx="163.5" cy="132.2" r="3.5" fill="#800000"/><circle cx="164.6" cy="133.5" r="3.5" fill="#800000"/><circle cx="166.3" cy="131.6" r="3.5" fill="#800000"/><circle cx="168.5" cy="135.4" r="3.5" fill="#800000"/><circle cx="169.2" cy="135.2" r="3.5" fill="#800000"/><circle cx="170.6" cy="135.7" r="3.5" fill="#800000"/><circle cx="172.7" cy="132.8" r="3.5" fill="#800000"/><circle cx="173.8" cy="134.3" r="3.5" fill="#800000"/><circle cx="175.6" cy="134.3" r="3.5" fill="#800000"/><circle cx="176.8" cy="133.6" r="3.5" fill="#800000"/><circle cx="178.2" cy="134.1" r="3.5" fill="#800000"/><circle cx="179.5" cy="133.3" r="3.5" fill="#800000"/><circle cx="180.4" cy="133.5" r="3.5" fill="#800000"/><circle cx="182.1" cy="132.6" r="3.5" fill="#800000"/><circle cx="183.9" cy="132.3" r="3.5" fill="#800000"/><circle cx="184.2" cy="133.0" r="3.5" fill="#800000"/><circle cx="186.7" cy="133.5" r="3.5" fill="#800000"/><circle cx="187.2" cy="134.3" r="3.5" fill="#800000"/><circle cx="188.4" cy="134.6" r="3.5" fill="#800000"/><circle cx="190.6" cy="135.3" r="3.5" fill="#800000"/><circle cx="192.1" cy="135.9" r="3.5" fill="#800000"/><circle cx="193.3" cy="136.6" r="3.5" fill="#800000"/><circle cx="195.0" cy="137.3" r="3.5" fill="#800000"/><circle cx="196.5" cy="138.0" r="3.5" fill="#800000"/><circle cx="197.8" cy="138.7" r="3.5" fill="#800000"/><circle cx="199.3" cy="139.5" r="3.5" fill="#800000"/><circle cx="199.8" cy="139.3" r="3.5" fill="#800000"/><circle cx="201.0" cy="139.3" r="3.5" fill="#800000"/><circle cx="203.4" cy="141.6" r="3.5" fill="#800000"/><circle cx="204.8" cy="141.4" r="3.5" fill="#800000"/><circle cx="205.5" cy="141.9" r="3.5" fill="#800000"/><circle cx="206.7" cy="139.1" r="3.5" fill="#800000"/><circle cx="208.2" cy="143.6" r="3.5" fill="#800000"/><circle cx="209.9" cy="140.7" r="3.5" fill="#800000"/><circle cx="211.1" cy="138.2" r="3.5" fill="#800000"/><circle cx="213.1" cy="140.6" r="3.5" fill="#800000"/><circle cx="214.0" cy="141.4" r="3.5" fill="#800000"/><circle cx="215.6" cy="146.8" r="3.5" fill="#800000"/><circle cx="217.1" cy="145.8" r="3.5" fill="#800000"/><circle cx="218.3" cy="138.7" r="3.5" fill="#800000"/><circle cx="220.1" cy="142.3" r="3.5" fill="#800000"/><circle cx="221.4" cy="141.7" r="3.5" fill="#800000"/><circle cx="222.3" cy="143.3" r="3.5" fill="#800000"/><circle cx="223.5" cy="145.6" r="3.5" fill="#800000"/><circle cx="225.0" cy="145.6" r="3.5" fill="#800000"/><circle cx="226.4" cy="140.8" r="3.5" fill="#800000"/><circle cx="228.8" cy="147.2" r="3.5" fill="#800000"/><circle cx="229.6" cy="143.7" r="3.5" fill="#800000"/><circle cx="231.4" cy="148.1" r="3.5" fill="#800000"/><circle cx="232.4" cy="148.0" r="3.5" fill="#800000"/><circle cx="234.2" cy="150.3" r="3.5" fill="#800000"/><circle cx="235.7" cy="151.3" r="3.5" fill="#800000"/><circle cx="236.3" cy="151.7" r="3.5" fill="#800000"/><circle cx="238.0" cy="153.6" r="3.5" fill="#800000"/><circle cx="239.6" cy="151.7" r="3.5" fill="#800000"/><circle cx="241.1" cy="151.9" r="3.5" fill="#800000"/><circle cx="242.5" cy="154.9" r="3.5" fill="#800000"/><circle cx="243.4" cy="155.1" r="3.5" fill="#800000"/><circle cx="244.9" cy="154.4" r="3.5" fill="#800000"/><circle cx="245.9" cy="157.4" r="3.5" fill="#800000"/><circle cx="247.2" cy="158.0" r="3.5" fill="#800000"/><circle cx="248.9" cy="155.9" r="3.5" fill="#800000"/><circle cx="250.6" cy="159.3" r="3.5" fill="#800000"/><circle cx="252.5" cy="157.2" r="3.5" fill="#800000"/><circle cx="253.4" cy="156.7" r="3.5" fill="#800000"/><circle cx="255.1" cy="158.3" r="3.5" fill="#800000"/><circle cx="256.4" cy="159.8" r="3.5" fill="#800000"/><circle cx="257.4" cy="157.6" r="3.5" fill="#800000"/><circle cx="259.4" cy="156.2" r="3.5" fill="#800000"/><circle cx="260.7" cy="158.9" r="3.5" fill="#800000"/><circle cx="261.7" cy="155.6" r="3.5" fill="#800000"/><circle cx="263.3" cy="158.4" r="3.5" fill="#800000"/><circle cx="264.6" cy="155.0" r="3.5" fill="#800000"/><circle cx="48.7" cy="112.3" r="3.5" fill="#800000"/><circle cx="50.2" cy="105.2" r="3.5" fill="#800000"/><circle cx="52.2" cy="110.7" r="3.5" fill="#800000"/><circle cx="52.8" cy="105.2" r="3.5" fill="#800000"/><circle cx="54.4" cy="106.3" r="3.5" fill="#800000"/><circle cx="55.6" cy="109.3" r="3.5" fill="#800000"/><circle cx="57.0" cy="107.5" r="3.5" fill="#800000"/><circle cx="59.1" cy="114.1" r="3.5" fill="#800000"/><circle cx="60.8" cy="105.6" r="3.5" fill="#800000"/><circle cx="61.5" cy="106.1" r="3.5" fill="#800000"/><circle cx="63.4" cy="114.9" r="3.5" fill="#800000"/><circle cx="64.3" cy="112.9" r="3.5" fill="#800000"/><circle cx="66.0" cy="108.6" r="3.5" fill="#800000"/><circle cx="66.8" cy="108.4" r="3.5" fill="#800000"/><circle cx="68.0" cy="111.0" r="3.5" fill="#800000"/><circle cx="70.3" cy="111.5" r="3.5" fill="#800000"/><circle cx="71.4" cy="113.9" r="3.5" fill="#800000"/><circle cx="72.8" cy="113.8" r="3.5" fill="#800000"/><circle cx="74.3" cy="111.2" r="3.5" fill="#800000"/><circle cx="75.9" cy="113.1" r="3.5" fill="#800000"/><circle cx="76.9" cy="116.0" r="3.5" fill="#800000"/><circle cx="78.7" cy="114.5" r="3.5" fill="#800000"/><circle cx="79.5" cy="114.0" r="3.5" fill="#800000"/><circle cx="81.7" cy="115.5" r="3.5" fill="#800000"/><circle cx="82.8" cy="115.9" r="3.5" fill="#800000"/><circle cx="84.2" cy="116.3" r="3.5" fill="#800000"/><circle cx="85.3" cy="115.6" r="3.5" fill="#800000"/><circle cx="87.0" cy="114.4" r="3.5" fill="#800000"/><circle cx="88.1" cy="113.8" r="3.5" fill="#800000"/><circle cx="89.9" cy="116.5" r="3.5" fill="#800000"/><circle cx="90.7" cy="116.1" r="3.5" fill="#800000"/><circle cx="92.3" cy="115.5" r="3.5" fill="#800000"/><circle cx="93.7" cy="116.3" r="3.5" fill="#800000"/><circle cx="95.7" cy="116.4" r="3.5" fill="#800000"/><circle cx="96.8" cy="114.8" r="3.5" fill="#800000"/><circle cx="97.9" cy="116.8" r="3.5" fill="#800000"/><circle cx="100.0" cy="115.8" r="3.5" fill="#800000"/><circle cx="100.9" cy="114.3" r="3.5" fill="#800000"/><circle cx="102.5" cy="114.6" r="3.5" fill="#800000"/><circle cx="103.6" cy="117.3" r="3.5" fill="#800000"/><circle cx="105.1" cy="114.2" r="3.5" fill="#800000"/><circle cx="106.7" cy="115.8" r="3.5" fill="#800000"/><circle cx="108.0" cy="115.6" r="3.5" fill="#800000"/><circle cx="109.2" cy="116.8" r="3.5" fill="#800000"/><circle cx="111.1" cy="115.2" r="3.5" fill="#800000"/><circle cx="112.2" cy="114.4" r="3.5" fill="#800000"/><circle cx="113.7" cy="115.2" r="3.5" fill="#800000"/><circle cx="115.4" cy="114.1" r="3.5" fill="#800000"/><circle cx="115.7" cy="115.2" r="3.5" fill="#800000"/><circle cx="117.5" cy="114.8" r="3.5" fill="#800000"/><circle cx="118.9" cy="113.6" r="3.5" fill="#800000"/><circle cx="120.6" cy="118.4" r="3.5" fill="#800000"/><circle cx="121.5" cy="120.1" r="3.5" fill="#800000"/><circle cx="123.5" cy="119.8" r="3.5" fill="#800000"/><circle cx="124.6" cy="125.6" r="3.5" fill="#800000"/><circle cx="195.4" cy="137.5" r="3.5" fill="#800000"/><circle cx="196.7" cy="138.5" r="3.5" fill="#800000"/><circle cx="199.3" cy="139.1" r="3.5" fill="#800000"/><circle cx="201.2" cy="140.6" r="3.5" fill="#800000"/><circle cx="203.1" cy="140.4" r="3.5" fill="#800000"/><circle cx="205.6" cy="139.7" r="3.5" fill="#800000"/><circle cx="207.2" cy="140.6" r="3.5" fill="#800000"/><circle cx="209.4" cy="144.2" r="3.5" fill="#800000"/><circle cx="210.8" cy="142.0" r="3.5" fill="#800000"/><circle cx="212.6" cy="143.1" r="3.5" fill="#800000"/><circle cx="214.8" cy="145.7" r="3.5" fill="#800000"/><circle cx="216.7" cy="145.8" r="3.5" fill="#800000"/><circle cx="218.7" cy="141.7" r="3.5" fill="#800000"/><circle cx="220.6" cy="142.3" r="3.5" fill="#800000"/><circle cx="223.3" cy="139.5" r="3.5" fill="#800000"/><circle cx="224.7" cy="141.8" r="3.5" fill="#800000"/><circle cx="227.0" cy="143.0" r="3.5" fill="#800000"/><circle cx="229.2" cy="145.7" r="3.5" fill="#800000"/><circle cx="230.8" cy="149.0" r="3.5" fill="#800000"/><circle cx="233.4" cy="151.9" r="3.5" fill="#800000"/><circle cx="235.4" cy="150.7" r="3.5" fill="#800000"/><circle cx="237.3" cy="153.9" r="3.5" fill="#800000"/><circle cx="239.4" cy="151.8" r="3.5" fill="#800000"/><circle cx="240.4" cy="154.3" r="3.5" fill="#800000"/><circle cx="243.5" cy="152.1" r="3.5" fill="#800000"/><circle cx="244.7" cy="155.6" r="3.5" fill="#800000"/><circle cx="246.6" cy="154.2" r="3.5" fill="#800000"/><circle cx="249.3" cy="155.9" r="3.5" fill="#800000"/><circle cx="250.6" cy="157.0" r="3.5" fill="#800000"/><circle cx="253.4" cy="159.9" r="3.5" fill="#800000"/><circle cx="255.5" cy="156.4" r="3.5" fill="#800000"/><circle cx="257.3" cy="159.1" r="3.5" fill="#800000"/><circle cx="259.5" cy="159.3" r="3.5" fill="#800000"/><circle cx="261.4" cy="159.5" r="3.5" fill="#800000"/><circle cx="263.2" cy="155.5" r="3.5" fill="#800000"/><circle cx="265.3" cy="156.4" r="3.5" fill="#800000"/><circle cx="121.9" cy="123.8" r="3.5" fill="#800000"/><circle cx="121.1" cy="125.5" r="3.5" fill="#800000"/><circle cx="122.2" cy="121.1" r="3.5" fill="#800000"/><circle cx="122.1" cy="124.7" r="3.5" fill="#800000"/><circle cx="123.4" cy="124.5" r="3.5" fill="#800000"/><circle cx="123.8" cy="124.9" r="3.5" fill="#800000"/><circle cx="125.4" cy="125.7" r="3.5" fill="#800000"/><circle cx="125.4" cy="118.7" r="3.5" fill="#800000"/><circle cx="126.3" cy="124.9" r="3.5" fill="#800000"/><circle cx="126.6" cy="127.4" r="3.5" fill="#800000"/><circle cx="127.3" cy="123.9" r="3.5" fill="#800000"/><circle cx="126.9" cy="131.1" r="3.5" fill="#800000"/><circle cx="128.8" cy="127.2" r="3.5" fill="#800000"/><circle cx="128.7" cy="120.0" r="3.5" fill="#800000"/><circle cx="130.3" cy="127.8" r="3.5" fill="#800000"/><circle cx="130.4" cy="123.8" r="3.5" fill="#800000"/><circle cx="131.0" cy="126.0" r="3.5" fill="#800000"/><circle cx="130.4" cy="130.3" r="3.5" fill="#800000"/><circle cx="132.4" cy="128.4" r="3.5" fill="#800000"/><circle cx="132.6" cy="124.3" r="3.5" fill="#800000"/><circle cx="133.4" cy="124.7" r="3.5" fill="#800000"/><circle cx="133.7" cy="126.4" r="3.5" fill="#800000"/><circle cx="134.5" cy="123.3" r="3.5" fill="#800000"/><circle cx="134.7" cy="125.5" r="3.5" fill="#800000"/><circle cx="135.6" cy="129.8" r="3.5" fill="#800000"/><circle cx="135.7" cy="129.8" r="3.5" fill="#800000"/><circle cx="81.7" cy="118.8" r="3.5" fill="#800000"/><circle cx="82.6" cy="118.8" r="3.5" fill="#800000"/><circle cx="83.4" cy="119.4" r="3.5" fill="#800000"/><circle cx="82.8" cy="119.3" r="3.5" fill="#800000"/><circle cx="84.1" cy="119.8" r="3.5" fill="#800000"/><circle cx="84.3" cy="120.1" r="3.5" fill="#800000"/><circle cx="85.3" cy="119.8" r="3.5" fill="#800000"/><circle cx="85.1" cy="121.3" r="3.5" fill="#800000"/><circle cx="85.8" cy="120.1" r="3.5" fill="#800000"/><circle cx="85.6" cy="120.0" r="3.5" fill="#800000"/><circle cx="87.1" cy="122.8" r="3.5" fill="#800000"/><circle cx="87.3" cy="122.1" r="3.5" fill="#800000"/><circle cx="88.1" cy="123.3" r="3.5" fill="#800000"/><circle cx="88.2" cy="122.5" r="3.5" fill="#800000"/><circle cx="89.1" cy="123.2" r="3.5" fill="#800000"/><circle cx="88.7" cy="123.2" r="3.5" fill="#800000"/><circle cx="89.9" cy="123.6" r="3.5" fill="#800000"/><circle cx="89.5" cy="123.9" r="3.5" fill="#800000"/><circle cx="90.4" cy="122.4" r="3.5" fill="#800000"/><circle cx="91.5" cy="124.0" r="3.5" fill="#800000"/><circle cx="91.8" cy="123.8" r="3.5" fill="#800000"/><circle cx="92.3" cy="124.2" r="3.5" fill="#800000"/><circle cx="92.7" cy="123.8" r="3.5" fill="#800000"/><circle cx="92.9" cy="123.3" r="3.5" fill="#800000"/><circle cx="93.9" cy="123.6" r="3.5" fill="#800000"/><circle cx="94.5" cy="124.0" r="3.5" fill="#800000"/><circle cx="95.1" cy="123.6" r="3.5" fill="#800000"/><circle cx="94.5" cy="123.5" r="3.5" fill="#800000"/><circle cx="96.1" cy="123.9" r="3.5" fill="#800000"/><circle cx="95.9" cy="123.9" r="3.5" fill="#800000"/><circle cx="96.9" cy="123.9" r="3.5" fill="#800000"/><circle cx="97.5" cy="123.9" r="3.5" fill="#800000"/><circle cx="98.0" cy="123.8" r="3.5" fill="#800000"/><circle cx="97.5" cy="123.8" r="3.5" fill="#800000"/><circle cx="48.7" cy="112.5" r="3.5" fill="#ff0000"/><circle cx="48.4" cy="111.7" r="3.5" fill="#ff0000"/><circle cx="50.7" cy="111.9" r="3.5" fill="#ff0000"/><circle cx="51.1" cy="112.0" r="3.5" fill="#ff0000"/><circle cx="52.4" cy="112.3" r="3.5" fill="#ff0000"/><circle cx="51.4" cy="112.4" r="3.5" fill="#ff0000"/><circle cx="53.2" cy="113.6" r="3.5" fill="#ff0000"/><circle cx="53.1" cy="113.6" r="3.5" fill="#ff0000"/><circle cx="55.3" cy="113.0" r="3.5" fill="#ff0000"/><circle cx="55.4" cy="114.0" r="3.5" fill="#ff0000"/><circle cx="56.0" cy="114.3" r="3.5" fill="#ff0000"/><circle cx="56.8" cy="114.2" r="3.5" fill="#ff0000"/><circle cx="58.5" cy="114.3" r="3.5" fill="#ff0000"/><circle cx="58.6" cy="114.0" r="3.5" fill="#ff0000"/><circle cx="58.9" cy="115.0" r="3.5" fill="#ff0000"/><circle cx="59.7" cy="113.9" r="3.5" fill="#ff0000"/><circle cx="60.5" cy="115.5" r="3.5" fill="#ff0000"/><circle cx="61.3" cy="114.7" r="3.5" fill="#ff0000"/><circle cx="62.9" cy="114.8" r="3.5" fill="#ff0000"/><circle cx="62.0" cy="115.3" r="3.5" fill="#ff0000"/><circle cx="64.1" cy="115.2" r="3.5" fill="#ff0000"/><circle cx="64.2" cy="115.3" r="3.5" fill="#ff0000"/><circle cx="65.9" cy="114.9" r="3.5" fill="#ff0000"/><circle cx="65.7" cy="115.3" r="3.5" fill="#ff0000"/><circle cx="66.9" cy="115.9" r="3.5" fill="#ff0000"/><circle cx="67.3" cy="115.4" r="3.5" fill="#ff0000"/><circle cx="68.8" cy="116.7" r="3.5" fill="#ff0000"/><circle cx="68.3" cy="115.9" r="3.5" fill="#ff0000"/><circle cx="70.6" cy="115.0" r="3.5" fill="#ff0000"/><circle cx="70.4" cy="116.4" r="3.5" fill="#ff0000"/><circle cx="71.6" cy="115.7" r="3.5" fill="#ff0000"/><circle cx="71.9" cy="117.1" r="3.5" fill="#ff0000"/><circle cx="72.8" cy="116.4" r="3.5" fill="#ff0000"/><circle cx="73.5" cy="116.0" r="3.5" fill="#ff0000"/><circle cx="74.7" cy="115.7" r="3.5" fill="#ff0000"/><circle cx="75.0" cy="116.2" r="3.5" fill="#ff0000"/><circle cx="75.7" cy="115.9" r="3.5" fill="#ff0000"/><circle cx="75.7" cy="114.0" r="3.5" fill="#ff0000"/><circle cx="77.6" cy="114.2" r="3.5" fill="#ff0000"/><circle cx="78.0" cy="115.0" r="3.5" fill="#ff0000"/><circle cx="79.4" cy="112.6" r="3.5" fill="#ff0000"/><circle cx="79.4" cy="114.1" r="3.5" fill="#ff0000"/><circle cx="80.2" cy="112.7" r="3.5" fill="#ff0000"/><circle cx="80.9" cy="113.1" r="3.5" fill="#ff0000"/><circle cx="82.5" cy="111.8" r="3.5" fill="#ff0000"/><circle cx="81.5" cy="111.7" r="3.5" fill="#ff0000"/><circle cx="83.9" cy="111.8" r="3.5" fill="#ff0000"/><circle cx="83.8" cy="111.6" r="3.5" fill="#ff0000"/><circle cx="84.7" cy="112.0" r="3.5" fill="#ff0000"/><circle cx="85.2" cy="111.8" r="3.5" fill="#ff0000"/><circle cx="86.1" cy="111.7" r="3.5" fill="#ff0000"/><circle cx="86.8" cy="111.6" r="3.5" fill="#ff0000"/><circle cx="88.0" cy="111.9" r="3.5" fill="#ff0000"/><circle cx="88.4" cy="111.5" r="3.5" fill="#ff0000"/><circle cx="89.2" cy="111.9" r="3.5" fill="#ff0000"/><circle cx="90.0" cy="111.8" r="3.5" fill="#ff0000"/><circle cx="91.0" cy="111.9" r="3.5" fill="#ff0000"/><circle cx="91.1" cy="111.7" r="3.5" fill="#ff0000"/><circle cx="92.1" cy="112.2" r="3.5" fill="#ff0000"/><circle cx="92.7" cy="112.2" r="3.5" fill="#ff0000"/><circle cx="94.1" cy="114.2" r="3.5" fill="#ff0000"/><circle cx="94.0" cy="114.3" r="3.5" fill="#ff0000"/><circle cx="95.0" cy="115.4" r="3.5" fill="#ff0000"/><circle cx="95.3" cy="117.7" r="3.5" fill="#ff0000"/><circle cx="97.2" cy="115.9" r="3.5" fill="#ff0000"/><circle cx="96.6" cy="117.9" r="3.5" fill="#ff0000"/><circle cx="98.3" cy="117.5" r="3.5" fill="#ff0000"/><circle cx="97.9" cy="117.2" r="3.5" fill="#ff0000"/><circle cx="100.6" cy="115.9" r="3.5" fill="#ff0000"/><circle cx="100.0" cy="118.4" r="3.5" fill="#ff0000"/><circle cx="101.2" cy="117.6" r="3.5" fill="#ff0000"/><circle cx="101.4" cy="118.3" r="3.5" fill="#ff0000"/><circle cx="103.3" cy="118.9" r="3.5" fill="#ff0000"/><circle cx="103.6" cy="118.5" r="3.5" fill="#ff0000"/><circle cx="103.9" cy="116.9" r="3.5" fill="#ff0000"/><circle cx="104.1" cy="116.7" r="3.5" fill="#ff0000"/><circle cx="105.5" cy="116.4" r="3.5" fill="#ff0000"/><circle cx="106.4" cy="117.9" r="3.5" fill="#ff0000"/><circle cx="108.0" cy="117.7" r="3.5" fill="#ff0000"/><circle cx="107.0" cy="119.1" r="3.5" fill="#ff0000"/><circle cx="108.9" cy="118.3" r="3.5" fill="#ff0000"/><circle cx="109.6" cy="116.8" r="3.5" fill="#ff0000"/><circle cx="110.6" cy="117.3" r="3.5" fill="#ff0000"/><circle cx="111.0" cy="118.6" r="3.5" fill="#ff0000"/><circle cx="111.9" cy="118.9" r="3.5" fill="#ff0000"/><circle cx="111.6" cy="118.1" r="3.5" fill="#ff0000"/><circle cx="114.1" cy="120.4" r="3.5" fill="#ff0000"/><circle cx="112.9" cy="117.3" r="3.5" fill="#ff0000"/><circle cx="114.8" cy="117.6" r="3.5" fill="#ff0000"/><circle cx="115.5" cy="120.4" r="3.5" fill="#ff0000"/><circle cx="116.0" cy="120.4" r="3.5" fill="#ff0000"/><circle cx="116.8" cy="120.2" r="3.5" fill="#ff0000"/><circle cx="118.6" cy="119.7" r="3.5" fill="#ff0000"/><circle cx="117.6" cy="116.8" r="3.5" fill="#ff0000"/><circle cx="120.0" cy="119.5" r="3.5" fill="#ff0000"/><circle cx="119.3" cy="118.7" r="3.5" fill="#ff0000"/><circle cx="121.3" cy="117.2" r="3.5" fill="#ff0000"/><circle cx="120.8" cy="111.3" r="3.5" fill="#ff0000"/><circle cx="122.0" cy="113.1" r="3.5" fill="#ff0000"/><circle cx="122.1" cy="115.9" r="3.5" fill="#ff0000"/><circle cx="123.6" cy="112.9" r="3.5" fill="#ff0000"/><circle cx="123.4" cy="118.3" r="3.5" fill="#ff0000"/><circle cx="125.1" cy="116.4" r="3.5" fill="#ff0000"/><circle cx="126.0" cy="110.6" r="3.5" fill="#ff0000"/><circle cx="127.5" cy="111.7" r="3.5" fill="#ff0000"/><circle cx="127.5" cy="114.8" r="3.5" fill="#ff0000"/><circle cx="128.4" cy="111.4" r="3.5" fill="#ff0000"/><circle cx="129.0" cy="111.2" r="3.5" fill="#ff0000"/><circle cx="130.2" cy="114.4" r="3.5" fill="#ff0000"/><circle cx="129.8" cy="112.8" r="3.5" fill="#ff0000"/><circle cx="131.5" cy="114.2" r="3.5" fill="#ff0000"/><circle cx="131.1" cy="113.5" r="3.5" fill="#ff0000"/><circle cx="132.5" cy="112.0" r="3.5" fill="#ff0000"/><circle cx="133.1" cy="113.7" r="3.5" fill="#ff0000"/><circle cx="134.9" cy="111.9" r="3.5" fill="#ff0000"/><circle cx="134.4" cy="112.3" r="3.5" fill="#ff0000"/><circle cx="135.7" cy="112.4" r="3.5" fill="#ff0000"/><circle cx="135.8" cy="115.2" r="3.5" fill="#ff0000"/><circle cx="137.5" cy="113.1" r="3.5" fill="#ff0000"/><circle cx="138.0" cy="114.0" r="3.5" fill="#ff0000"/><circle cx="139.6" cy="113.4" r="3.5" fill="#ff0000"/><circle cx="139.5" cy="112.9" r="3.5" fill="#ff0000"/><circle cx="140.2" cy="117.7" r="3.5" fill="#ff0000"/><circle cx="140.2" cy="116.3" r="3.5" fill="#ff0000"/><circle cx="141.6" cy="114.8" r="3.5" fill="#ff0000"/><circle cx="142.6" cy="115.6" r="3.5" fill="#ff0000"/><circle cx="144.0" cy="120.1" r="3.5" fill="#ff0000"/><circle cx="143.2" cy="113.9" r="3.5" fill="#ff0000"/><circle cx="144.5" cy="119.4" r="3.5" fill="#ff0000"/><circle cx="144.8" cy="118.3" r="3.5" fill="#ff0000"/><circle cx="145.9" cy="116.6" r="3.5" fill="#ff0000"/><circle cx="146.3" cy="116.1" r="3.5" fill="#ff0000"/><circle cx="147.4" cy="114.2" r="3.5" fill="#ff0000"/><circle cx="148.0" cy="115.2" r="3.5" fill="#ff0000"/><circle cx="149.4" cy="114.3" r="3.5" fill="#ff0000"/><circle cx="149.2" cy="115.3" r="3.5" fill="#ff0000"/><circle cx="150.6" cy="114.8" r="3.5" fill="#ff0000"/><circle cx="151.3" cy="114.4" r="3.5" fill="#ff0000"/><circle cx="152.1" cy="115.0" r="3.5" fill="#ff0000"/><circle cx="152.0" cy="114.3" r="3.5" fill="#ff0000"/><circle cx="154.0" cy="115.0" r="3.5" fill="#ff0000"/><circle cx="153.6" cy="114.6" r="3.5" fill="#ff0000"/><circle cx="155.7" cy="115.1" r="3.5" fill="#ff0000"/><circle cx="155.6" cy="115.2" r="3.5" fill="#ff0000"/><circle cx="156.5" cy="115.0" r="3.5" fill="#ff0000"/><circle cx="156.9" cy="115.3" r="3.5" fill="#ff0000"/><circle cx="158.0" cy="115.4" r="3.5" fill="#ff0000"/><circle cx="158.3" cy="115.4" r="3.5" fill="#ff0000"/><circle cx="160.4" cy="115.5" r="3.5" fill="#ff0000"/><circle cx="159.4" cy="115.5" r="3.5" fill="#ff0000"/><circle cx="161.5" cy="116.8" r="3.5" fill="#ff0000"/><circle cx="161.2" cy="116.8" r="3.5" fill="#ff0000"/><circle cx="163.4" cy="116.5" r="3.5" fill="#ff0000"/><circle cx="162.6" cy="116.5" r="3.5" fill="#ff0000"/><circle cx="164.6" cy="115.3" r="3.5" fill="#ff0000"/><circle cx="164.5" cy="115.2" r="3.5" fill="#ff0000"/><circle cx="166.0" cy="115.0" r="3.5" fill="#ff0000"/><circle cx="166.3" cy="114.6" r="3.5" fill="#ff0000"/><circle cx="167.9" cy="115.5" r="3.5" fill="#ff0000"/><circle cx="167.8" cy="114.8" r="3.5" fill="#ff0000"/><circle cx="169.3" cy="114.9" r="3.5" fill="#ff0000"/><circle cx="169.4" cy="114.4" r="3.5" fill="#ff0000"/><circle cx="170.5" cy="115.9" r="3.5" fill="#ff0000"/><circle cx="170.5" cy="115.1" r="3.5" fill="#ff0000"/><circle cx="171.4" cy="115.2" r="3.5" fill="#ff0000"/><circle cx="171.7" cy="116.0" r="3.5" fill="#ff0000"/><circle cx="173.0" cy="114.7" r="3.5" fill="#ff0000"/><circle cx="173.9" cy="114.9" r="3.5" fill="#ff0000"/><circle cx="174.5" cy="114.7" r="3.5" fill="#ff0000"/><circle cx="174.6" cy="115.8" r="3.5" fill="#ff0000"/><circle cx="176.6" cy="114.9" r="3.5" fill="#ff0000"/><circle cx="176.5" cy="115.7" r="3.5" fill="#ff0000"/><circle cx="177.5" cy="116.0" r="3.5" fill="#ff0000"/><circle cx="178.3" cy="116.3" r="3.5" fill="#ff0000"/><circle cx="179.0" cy="115.3" r="3.5" fill="#ff0000"/><circle cx="179.5" cy="115.9" r="3.5" fill="#ff0000"/><circle cx="180.5" cy="115.8" r="3.5" fill="#ff0000"/><circle cx="180.6" cy="115.9" r="3.5" fill="#ff0000"/><circle cx="182.9" cy="116.3" r="3.5" fill="#ff0000"/><circle cx="182.6" cy="115.9" r="3.5" fill="#ff0000"/><circle cx="183.6" cy="116.6" r="3.5" fill="#ff0000"/><circle cx="184.5" cy="116.6" r="3.5" fill="#ff0000"/><circle cx="185.4" cy="116.4" r="3.5" fill="#ff0000"/><circle cx="185.5" cy="116.7" r="3.5" fill="#ff0000"/><circle cx="187.5" cy="116.6" r="3.5" fill="#ff0000"/><circle cx="186.8" cy="116.8" r="3.5" fill="#ff0000"/><circle cx="188.3" cy="116.7" r="3.5" fill="#ff0000"/><circle cx="189.1" cy="116.8" r="3.5" fill="#ff0000"/><circle cx="190.5" cy="117.4" r="3.5" fill="#ff0000"/><circle cx="190.4" cy="117.4" r="3.5" fill="#ff0000"/><circle cx="191.5" cy="117.2" r="3.5" fill="#ff0000"/><circle cx="192.0" cy="117.8" r="3.5" fill="#ff0000"/><circle cx="192.9" cy="117.6" r="3.5" fill="#ff0000"/><circle cx="192.8" cy="117.9" r="3.5" fill="#ff0000"/><circle cx="194.0" cy="118.2" r="3.5" fill="#ff0000"/><circle cx="194.5" cy="118.1" r="3.5" fill="#ff0000"/><circle cx="195.6" cy="118.0" r="3.5" fill="#ff0000"/><circle cx="196.3" cy="118.9" r="3.5" fill="#ff0000"/><circle cx="197.7" cy="119.3" r="3.5" fill="#ff0000"/><circle cx="198.0" cy="119.1" r="3.5" fill="#ff0000"/><circle cx="198.4" cy="119.6" r="3.5" fill="#ff0000"/><circle cx="198.7" cy="119.3" r="3.5" fill="#ff0000"/><circle cx="200.2" cy="119.7" r="3.5" fill="#ff0000"/><circle cx="201.0" cy="119.5" r="3.5" fill="#ff0000"/><circle cx="201.7" cy="119.9" r="3.5" fill="#ff0000"/><circle cx="201.9" cy="119.8" r="3.5" fill="#ff0000"/><circle cx="203.2" cy="120.7" r="3.5" fill="#ff0000"/><circle cx="203.7" cy="119.8" r="3.5" fill="#ff0000"/><circle cx="205.1" cy="119.7" r="3.5" fill="#ff0000"/><circle cx="205.0" cy="120.7" r="3.5" fill="#ff0000"/><circle cx="206.5" cy="119.9" r="3.5" fill="#ff0000"/><circle cx="206.1" cy="120.2" r="3.5" fill="#ff0000"/><circle cx="207.6" cy="119.9" r="3.5" fill="#ff0000"/><circle cx="207.9" cy="120.0" r="3.5" fill="#ff0000"/><circle cx="209.2" cy="120.0" r="3.5" fill="#ff0000"/><circle cx="209.6" cy="120.0" r="3.5" fill="#ff0000"/><circle cx="211.1" cy="120.1" r="3.5" fill="#ff0000"/><circle cx="211.2" cy="120.1" r="3.5" fill="#ff0000"/><circle cx="212.8" cy="120.1" r="3.5" fill="#ff0000"/><circle cx="212.6" cy="120.1" r="3.5" fill="#ff0000"/><circle cx="214.0" cy="120.0" r="3.5" fill="#ff0000"/><circle cx="213.7" cy="120.0" r="3.5" fill="#ff0000"/><circle cx="215.5" cy="120.0" r="3.5" fill="#ff0000"/><circle cx="215.6" cy="120.0" r="3.5" fill="#ff0000"/><circle cx="216.8" cy="120.2" r="3.5" fill="#ff0000"/><circle cx="216.7" cy="120.2" r="3.5" fill="#ff0000"/><circle cx="218.5" cy="120.5" r="3.5" fill="#ff0000"/><circle cx="219.1" cy="120.5" r="3.5" fill="#ff0000"/><circle cx="220.3" cy="120.8" r="3.5" fill="#ff0000"/><circle cx="219.5" cy="120.7" r="3.5" fill="#ff0000"/><circle cx="221.4" cy="121.2" r="3.5" fill="#ff0000"/><circle cx="221.4" cy="120.9" r="3.5" fill="#ff0000"/><circle cx="223.3" cy="121.3" r="3.5" fill="#ff0000"/><circle cx="222.7" cy="121.1" r="3.5" fill="#ff0000"/><circle cx="224.8" cy="121.8" r="3.5" fill="#ff0000"/><circle cx="224.3" cy="121.3" r="3.5" fill="#ff0000"/><circle cx="226.2" cy="121.7" r="3.5" fill="#ff0000"/><circle cx="226.4" cy="121.9" r="3.5" fill="#ff0000"/><circle cx="227.5" cy="122.3" r="3.5" fill="#ff0000"/><circle cx="227.8" cy="122.2" r="3.5" fill="#ff0000"/><circle cx="229.0" cy="122.5" r="3.5" fill="#ff0000"/><circle cx="229.3" cy="122.5" r="3.5" fill="#ff0000"/><circle cx="230.1" cy="122.9" r="3.5" fill="#ff0000"/><circle cx="229.9" cy="122.9" r="3.5" fill="#ff0000"/><circle cx="232.1" cy="123.1" r="3.5" fill="#ff0000"/><circle cx="232.6" cy="122.8" r="3.5" fill="#ff0000"/><circle cx="233.4" cy="123.2" r="3.5" fill="#ff0000"/><circle cx="233.9" cy="123.4" r="3.5" fill="#ff0000"/><circle cx="234.9" cy="123.5" r="3.5" fill="#ff0000"/><circle cx="234.9" cy="123.4" r="3.5" fill="#ff0000"/><circle cx="235.8" cy="122.2" r="3.5" fill="#ff0000"/><circle cx="237.7" cy="122.7" r="3.5" fill="#ff0000"/><circle cx="239.0" cy="123.5" r="3.5" fill="#ff0000"/><circle cx="241.2" cy="125.0" r="3.5" fill="#ff0000"/><circle cx="242.3" cy="125.3" r="3.5" fill="#ff0000"/><circle cx="243.8" cy="125.6" r="3.5" fill="#ff0000"/><circle cx="245.7" cy="128.5" r="3.5" fill="#ff0000"/><circle cx="246.7" cy="134.0" r="3.5" fill="#ff0000"/><circle cx="248.6" cy="137.3" r="3.5" fill="#ff0000"/><circle cx="250.8" cy="136.6" r="3.5" fill="#ff0000"/><circle cx="251.6" cy="137.7" r="3.5" fill="#ff0000"/><circle cx="254.1" cy="133.1" r="3.5" fill="#ff0000"/><circle cx="254.7" cy="130.0" r="3.5" fill="#ff0000"/><circle cx="256.8" cy="134.3" r="3.5" fill="#ff0000"/><circle cx="258.7" cy="136.1" r="3.5" fill="#ff0000"/><circle cx="260.6" cy="134.2" r="3.5" fill="#ff0000"/><circle cx="261.6" cy="134.1" r="3.5" fill="#ff0000"/><circle cx="263.1" cy="134.9" r="3.5" fill="#ff0000"/><circle cx="264.9" cy="133.3" r="3.5" fill="#ff0000"/><circle cx="266.9" cy="132.5" r="3.5" fill="#ff0000"/><circle cx="268.0" cy="132.5" r="3.5" fill="#ff0000"/><circle cx="269.4" cy="131.3" r="3.5" fill="#ff0000"/><circle cx="271.3" cy="132.2" r="3.5" fill="#ff0000"/><circle cx="273.3" cy="135.5" r="3.5" fill="#ff0000"/><circle cx="274.4" cy="142.6" r="3.5" fill="#ff0000"/><circle cx="276.1" cy="138.8" r="3.5" fill="#ff0000"/><circle cx="277.4" cy="142.9" r="3.5" fill="#ff0000"/><circle cx="279.6" cy="139.4" r="3.5" fill="#ff0000"/><circle cx="280.6" cy="135.9" r="3.5" fill="#ff0000"/><circle cx="282.8" cy="144.3" r="3.5" fill="#ff0000"/><circle cx="283.5" cy="139.3" r="3.5" fill="#ff0000"/><circle cx="285.8" cy="143.4" r="3.5" fill="#ff0000"/><circle cx="287.8" cy="142.6" r="3.5" fill="#ff0000"/><circle cx="288.7" cy="139.1" r="3.5" fill="#ff0000"/><circle cx="290.1" cy="137.3" r="3.5" fill="#ff0000"/><circle cx="292.0" cy="137.6" r="3.5" fill="#ff0000"/><circle cx="293.2" cy="141.7" r="3.5" fill="#ff0000"/><circle cx="295.3" cy="145.0" r="3.5" fill="#ff0000"/><circle cx="297.4" cy="142.9" r="3.5" fill="#ff0000"/><circle cx="297.9" cy="139.8" r="3.5" fill="#ff0000"/><circle cx="300.3" cy="138.8" r="3.5" fill="#ff0000"/><circle cx="301.8" cy="138.4" r="3.5" fill="#ff0000"/><circle cx="303.0" cy="141.9" r="3.5" fill="#ff0000"/><circle cx="304.9" cy="147.5" r="3.5" fill="#ff0000"/><circle cx="306.0" cy="146.3" r="3.5" fill="#ff0000"/><circle cx="308.1" cy="145.2" r="3.5" fill="#ff0000"/><circle cx="309.8" cy="143.7" r="3.5" fill="#ff0000"/><circle cx="236.6" cy="122.0" r="3.5" fill="#ff0000"/><circle cx="239.1" cy="123.8" r="3.5" fill="#ff0000"/><circle cx="242.0" cy="124.7" r="3.5" fill="#ff0000"/><circle cx="245.1" cy="133.2" r="3.5" fill="#ff0000"/><circle cx="248.4" cy="129.6" r="3.5" fill="#ff0000"/><circle cx="252.4" cy="133.8" r="3.5" fill="#ff0000"/><circle cx="255.6" cy="134.7" r="3.5" fill="#ff0000"/><circle cx="257.8" cy="131.8" r="3.5" fill="#ff0000"/><circle cx="261.4" cy="135.4" r="3.5" fill="#ff0000"/><circle cx="264.6" cy="135.1" r="3.5" fill="#ff0000"/><circle cx="267.7" cy="131.1" r="3.5" fill="#ff0000"/><circle cx="271.7" cy="131.6" r="3.5" fill="#ff0000"/><circle cx="274.2" cy="139.8" r="3.5" fill="#ff0000"/><circle cx="277.5" cy="138.8" r="3.5" fill="#ff0000"/><circle cx="281.3" cy="134.8" r="3.5" fill="#ff0000"/><circle cx="284.6" cy="140.1" r="3.5" fill="#ff0000"/><circle cx="287.3" cy="138.6" r="3.5" fill="#ff0000"/><circle cx="289.9" cy="137.3" r="3.5" fill="#ff0000"/><circle cx="294.0" cy="147.3" r="3.5" fill="#ff0000"/><circle cx="297.3" cy="142.7" r="3.5" fill="#ff0000"/><circle cx="299.8" cy="140.5" r="3.5" fill="#ff0000"/><circle cx="303.8" cy="145.9" r="3.5" fill="#ff0000"/><circle cx="306.9" cy="145.2" r="3.5" fill="#ff0000"/><circle cx="309.5" cy="143.5" r="3.5" fill="#ff0000"/><circle cx="118.7" cy="118.8" r="3.5" fill="#ff0000"/><circle cx="119.5" cy="113.8" r="3.5" fill="#ff0000"/><circle cx="120.6" cy="115.9" r="3.5" fill="#ff0000"/><circle cx="119.8" cy="113.0" r="3.5" fill="#ff0000"/><circle cx="121.0" cy="114.4" r="3.5" fill="#ff0000"/><circle cx="121.1" cy="121.9" r="3.5" fill="#ff0000"/><circle cx="122.1" cy="116.9" r="3.5" fill="#ff0000"/><circle cx="122.5" cy="116.5" r="3.5" fill="#ff0000"/><circle cx="123.3" cy="114.9" r="3.5" fill="#ff0000"/><circle cx="124.2" cy="111.5" r="3.5" fill="#ff0000"/><circle cx="124.7" cy="114.3" r="3.5" fill="#ff0000"/><circle cx="124.7" cy="112.3" r="3.5" fill="#ff0000"/><path d="M87.4 274.2L91.0 280.4L83.8 280.4Z" fill="#0000ff"/><path d="M88.8 274.5L92.4 280.7L85.2 280.7Z" fill="#0000ff"/><path d="M90.2 273.8L93.8 280.0L86.6 280.0Z" fill="#0000ff"/><path d="M90.7 273.6L94.3 279.8L87.1 279.8Z" fill="#0000ff"/><path d="M91.6 274.6L95.2 280.8L88.0 280.8Z" fill="#0000ff"/><path d="M93.4 273.9L97.0 280.1L89.8 280.1Z" fill="#0000ff"/><path d="M93.6 274.4L97.2 280.6L90.0 280.6Z" fill="#0000ff"/><path d="M95.3 273.5L98.9 279.7L91.7 279.7Z" fill="#0000ff"/><path d="M96.6 273.5L100.2 279.7L93.0 279.7Z" fill="#0000ff"/><path d="M97.5 273.0L101.1 279.2L93.9 279.2Z" fill="#0000ff"/><path d="M97.7 273.6L101.3 279.8L94.1 279.8Z" fill="#0000ff"/><path d="M98.6 273.4L102.2 279.6L95.0 279.6Z" fill="#0000ff"/><path d="M99.7 274.0L103.3 280.2L96.1 280.2Z" fill="#0000ff"/><path d="M101.1 274.5L104.7 280.7L97.5 280.7Z" fill="#0000ff"/><path d="M101.7 273.0L105.3 279.2L98.1 279.2Z" fill="#0000ff"/><path d="M102.7 273.7L106.3 279.9L99.1 279.9Z" fill="#0000ff"/><path d="M103.5 274.4L107.1 280.6L99.9 280.6Z" fill="#0000ff"/><path d="M105.1 273.4L108.7 279.6L101.5 279.6Z" fill="#0000ff"/><path d="M106.3 272.8L109.9 279.0L102.7 279.0Z" fill="#0000ff"/><path d="M107.2 273.1L110.8 279.3L103.6 279.3Z" fill="#0000ff"/><path d="M107.8 273.6L111.4 279.8L104.2 279.8Z" fill="#0000ff"/><path d="M108.5 273.1L112.1 279.3L104.9 279.3Z" fill="#0000ff"/><path d="M110.4 272.5L114.0 278.7L106.8 278.7Z" fill="#0000ff"/><path d="M111.2 272.9L114.8 279.1L107.6 279.1Z" fill="#0000ff"/><path d="M112.1 272.3L115.7 278.5L108.5 278.5Z" fill="#0000ff"/><path d="M113.0 273.0L116.6 279.2L109.4 279.2Z" fill="#0000ff"/><path d="M113.5 272.8L117.1 279.0L109.9 279.0Z" fill="#0000ff"/><path d="M114.7 272.9L118.3 279.1L111.1 279.1Z" fill="#0000ff"/><path d="M116.3 272.4L119.9 278.6L112.7 278.6Z" fill="#0000ff"/><path d="M116.9 272.8L120.5 279.0L113.3 279.0Z" fill="#0000ff"/><path d="M118.3 274.5L121.9 280.7L114.7 280.7Z" fill="#0000ff"/><path d="M119.4 274.5L123.0 280.7L115.8 280.7Z" fill="#0000ff"/><path d="M119.7 272.4L123.3 278.6L116.1 278.6Z" fill="#0000ff"/><path d="M121.2 272.0L124.8 278.2L117.6 278.2Z" fill="#0000ff"/><path d="M121.8 273.8L125.4 280.0L118.2 280.0Z" fill="#0000ff"/><path d="M123.2 273.0L126.8 279.2L119.6 279.2Z" fill="#0000ff"/><path d="M123.7 273.8L127.3 280.0L120.1 280.0Z" fill="#0000ff"/><path d="M124.8 274.2L128.4 280.4L121.2 280.4Z" fill="#0000ff"/><path d="M125.6 273.5L129.2 279.7L122.0 279.7Z" fill="#0000ff"/><path d="M127.5 272.0L131.1 278.2L123.9 278.2Z" fill="#0000ff"/><path d="M128.3 273.7L131.9 279.9L124.7 279.9Z" fill="#0000ff"/><path d="M128.4 271.8L132.0 278.0L124.8 278.0Z" fill="#0000ff"/><path d="M129.6 272.1L133.2 278.3L126.0 278.3Z" fill="#0000ff"/><path d="M130.9 272.4L134.5 278.6L127.3 278.6Z" fill="#0000ff"/><path d="M131.8 271.6L135.4 277.8L128.2 277.8Z" fill="#0000ff"/><path d="M132.6 273.3L136.2 279.5L129.0 279.5Z" fill="#0000ff"/><path d="M134.1 273.8L137.7 280.0L130.5 280.0Z" fill="#0000ff"/><path d="M134.7 273.4L138.3 279.6L131.1 279.6Z" fill="#0000ff"/><path d="M136.2 272.6L139.8 278.8L132.6 278.8Z" fill="#0000ff"/><path d="M136.4 272.3L140.0 278.5L132.8 278.5Z" fill="#0000ff"/><path d="M138.3 273.6L141.9 279.8L134.7 279.8Z" fill="#0000ff"/><path d="M138.5 272.0L142.1 278.2L134.9 278.2Z" fill="#0000ff"/><path d="M140.1 273.6L143.7 279.8L136.5 279.8Z" fill="#0000ff"/><path d="M140.7 271.3L144.3 277.5L137.1 277.5Z" fill="#0000ff"/><path d="M142.3 271.4L145.9 277.6L138.7 277.6Z" fill="#0000ff"/><path d="M143.5 271.7L147.1 277.9L139.9 277.9Z" fill="#0000ff"/><path d="M143.5 273.1L147.1 279.3L139.9 279.3Z" fill="#0000ff"/><path d="M144.9 272.9L148.5 279.1L141.3 279.1Z" fill="#0000ff"/><path d="M146.4 273.0L150.0 279.2L142.8 279.2Z" fill="#0000ff"/><path d="M146.5 271.1L150.1 277.3L142.9 277.3Z" fill="#0000ff"/><path d="M147.9 273.6L151.5 279.8L144.3 279.8Z" fill="#0000ff"/><path d="M149.2 273.5L152.8 279.7L145.6 279.7Z" fill="#0000ff"/><path d="M150.4 272.4L154.0 278.6L146.8 278.6Z" fill="#0000ff"/><path d="M150.9 271.8L154.5 278.0L147.3 278.0Z" fill="#0000ff"/><path d="M152.2 268.8L155.8 275.0L148.6 275.0Z" fill="#0000ff"/><path d="M153.0 270.7L156.6 276.9L149.4 276.9Z" fill="#0000ff"/><path d="M153.6 273.2L157.2 279.4L150.0 279.4Z" fill="#0000ff"/><path d="M154.5 272.3L158.1 278.5L150.9 278.5Z" fill="#0000ff"/><path d="M156.4 272.0L160.0 278.2L152.8 278.2Z" fill="#0000ff"/><path d="M157.1 269.8L160.7 276.0L153.5 276.0Z" fill="#0000ff"/><path d="M158.2 273.3L161.8 279.5L154.6 279.5Z" fill="#0000ff"/><path d="M158.7 271.1L162.3 277.3L155.1 277.3Z" fill="#0000ff"/><path d="M159.8 268.8L163.4 275.0L156.2 275.0Z" fill="#0000ff"/><path d="M160.6 270.4L164.2 276.6L157.0 276.6Z" fill="#0000ff"/><path d="M161.6 269.9L165.2 276.1L158.0 276.1Z" fill="#0000ff"/><path d="M163.2 271.8L166.8 278.0L159.6 278.0Z" fill="#0000ff"/><path d="M163.7 269.5L167.3 275.7L160.1 275.7Z" fill="#0000ff"/><path d="M164.9 270.8L168.5 277.0L161.3 277.0Z" fill="#0000ff"/><path d="M165.8 272.7L169.4 278.9L162.2 278.9Z" fill="#0000ff"/><path d="M167.5 269.6L171.1 275.8L163.9 275.8Z" fill="#0000ff"/><path d="M168.1 268.8L171.7 275.0L164.5 275.0Z" fill="#0000ff"/><path d="M169.4 269.7L173.0 275.9L165.8 275.9Z" fill="#0000ff"/><path d="M170.3 270.7L173.9 276.9L166.7 276.9Z" fill="#0000ff"/><path d="M171.2 268.9L174.8 275.1L167.6 275.1Z" fill="#0000ff"/><path d="M172.0 270.9L175.6 277.1L168.4 277.1Z" fill="#0000ff"/><path d="M173.4 271.9L177.0 278.1L169.8 278.1Z" fill="#0000ff"/><path d="M173.7 270.3L177.3 276.5L170.1 276.5Z" fill="#0000ff"/><path d="M64.3 276.9L67.9 283.1L60.7 283.1Z" fill="#00ffff"/><path d="M114.0 288.4L117.6 294.6L110.4 294.6Z" fill="#00ffff"/><path d="M118.0 288.9L121.6 295.1L114.4 295.1Z" fill="#00ffff"/><path d="M131.8 284.2L135.4 290.4L128.2 290.4Z" fill="#00ffff"/><path d="M157.7 289.7L161.3 295.9L154.1 295.9Z" fill="#00ffff"/><path d="M162.0 289.7L165.6 295.9L158.4 295.9Z" fill="#00ffff"/><path d="M165.7 289.7L169.3 295.9L162.1 295.9Z" fill="#00ffff"/><path d="M48.6 296.5L52.2 302.7L45.0 302.7Z" fill="#000080"/><path d="M49.7 295.7L53.3 301.9L46.1 301.9Z" fill="#000080"/><path d="M51.2 296.1L54.8 302.3L47.6 302.3Z" fill="#000080"/><path d="M51.5 296.7L55.1 302.9L47.9 302.9Z" fill="#000080"/><path d="M53.0 296.4L56.6 302.6L49.4 302.6Z" fill="#000080"/><path d="M53.6 296.5L57.2 302.7L50.0 302.7Z" fill="#000080"/><path d="M54.4 295.8L58.0 302.0L50.8 302.0Z" fill="#000080"/><path d="M56.3 297.8L59.9 304.0L52.7 304.0Z" fill="#000080"/><path d="M57.3 295.9L60.9 302.1L53.7 302.1Z" fill="#000080"/><path d="M58.1 297.7L61.7 303.9L54.5 303.9Z" fill="#000080"/><path d="M59.0 296.0L62.6 302.2L55.4 302.2Z" fill="#000080"/><path d="M59.6 296.6L63.2 302.8L56.0 302.8Z" fill="#000080"/><path d="M60.4 296.8L64.0 303.0L56.8 303.0Z" fill="#000080"/><path d="M62.2 297.4L65.8 303.6L58.6 303.6Z" fill="#000080"/><path d="M63.5 296.9L67.1 303.1L59.9 303.1Z" fill="#000080"/><path d="M63.7 296.9L67.3 303.1L60.1 303.1Z" fill="#000080"/><path d="M64.6 296.3L68.2 302.5L61.0 302.5Z" fill="#000080"/><path d="M66.3 295.9L69.9 302.1L62.7 302.1Z" fill="#000080"/><path d="M66.8 296.9L70.4 303.1L63.2 303.1Z" fill="#000080"/><path d="M68.2 295.9L71.8 302.1L64.6 302.1Z" fill="#000080"/><path d="M69.5 296.7L73.1 302.9L65.9 302.9Z" fill="#000080"/><path d="M70.3 295.6L73.9 301.8L66.7 301.8Z" fill="#000080"/><path d="M71.3 296.5L74.9 302.7L67.7 302.7Z" fill="#000080"/><path d="M71.6 295.6L75.2 301.8L68.0 301.8Z" fill="#000080"/><path d="M72.8 296.3L76.4 302.5L69.2 302.5Z" fill="#000080"/><path d="M74.1 295.5L77.7 301.7L70.5 301.7Z" fill="#000080"/><path d="M75.4 295.4L79.0 301.6L71.8 301.6Z" fill="#000080"/><path d="M75.4 295.0L79.0 301.2L71.8 301.2Z" fill="#000080"/><path d="M77.2 295.5L80.8 301.7L73.6 301.7Z" fill="#000080"/><path d="M78.2 295.9L81.8 302.1L74.6 302.1Z" fill="#000080"/><path d="M79.5 295.9L83.1 302.1L75.9 302.1Z" fill="#000080"/><path d="M80.0 295.0L83.6 301.2L76.4 301.2Z" fill="#000080"/><path d="M80.8 294.3L84.4 300.5L77.2 300.5Z" fill="#000080"/><path d="M81.5 295.0L85.1 301.2L77.9 301.2Z" fill="#000080"/><path d="M82.6 295.1L86.2 301.3L79.0 301.3Z" fill="#000080"/><path d="M84.6 294.5L88.2 300.7L81.0 300.7Z" fill="#000080"/><path d="M84.4 293.7L88.0 299.9L80.8 299.9Z" fill="#000080"/><path d="M85.6 294.2L89.2 300.4L82.0 300.4Z" fill="#000080"/><path d="M86.4 294.7L90.0 300.9L82.8 300.9Z" fill="#000080"/><path d="M88.4 294.8L92.0 301.0L84.8 301.0Z" fill="#000080"/><path d="M88.9 294.6L92.5 300.8L85.3 300.8Z" fill="#000080"/><path d="M90.2 293.5L93.8 299.7L86.6 299.7Z" fill="#000080"/><path d="M90.9 293.8L94.5 300.0L87.3 300.0Z" fill="#000080"/><path d="M91.9 293.3L95.5 299.5L88.3 299.5Z" fill="#000080"/><path d="M93.4 293.9L97.0 300.1L89.8 300.1Z" fill="#000080"/><path d="M93.6 294.3L97.2 300.5L90.0 300.5Z" fill="#000080"/><path d="M94.9 292.9L98.5 299.1L91.3 299.1Z" fill="#000080"/><path d="M95.8 293.4L99.4 299.6L92.2 299.6Z" fill="#000080"/><path d="M96.5 292.5L100.1 298.7L92.9 298.7Z" fill="#000080"/><path d="M98.0 292.7L101.6 298.9L94.4 298.9Z" fill="#000080"/><path d="M99.5 293.9L103.1 300.1L95.9 300.1Z" fill="#000080"/><path d="M100.6 293.6L104.2 299.8L97.0 299.8Z" fill="#000080"/><path d="M101.1 293.7L104.7 299.9L97.5 299.9Z" fill="#000080"/><path d="M101.5 293.3L105.1 299.5L97.9 299.5Z" fill="#000080"/><path d="M103.1 292.9L106.7 299.1L99.5 299.1Z" fill="#000080"/><path d="M104.1 292.1L107.7 298.3L100.5 298.3Z" fill="#000080"/><path d="M105.0 293.3L108.6 299.5L101.4 299.5Z" fill="#000080"/><path d="M105.8 292.6L109.4 298.8L102.2 298.8Z" fill="#000080"/><path d="M107.5 291.9L111.1 298.1L103.9 298.1Z" fill="#000080"/><path d="M107.6 291.1L111.2 297.3L104.0 297.3Z" fill="#000080"/><path d="M108.9 292.4L112.5 298.6L105.3 298.6Z" fill="#000080"/><path d="M110.2 291.0L113.8 297.2L106.6 297.2Z" fill="#000080"/><path d="M111.1 291.3L114.7 297.5L107.5 297.5Z" fill="#000080"/><path d="M112.0 291.2L115.6 297.4L108.4 297.4Z" fill="#000080"/><path d="M112.9 291.2L116.5 297.4L109.3 297.4Z" fill="#000080"/><path d="M113.6 290.5L117.2 296.7L110.0 296.7Z" fill="#000080"/><path d="M125.1 294.4L128.7 300.6L121.5 300.6Z" fill="#000080"/><path d="M126.9 294.4L130.5 300.6L123.3 300.6Z" fill="#000080"/><path d="M127.5 294.4L131.1 300.6L123.9 300.6Z" fill="#000080"/><path d="M129.2 294.4L132.8 300.6L125.6 300.6Z" fill="#000080"/><path d="M131.1 294.4L134.7 300.6L127.5 300.6Z" fill="#000080"/><path d="M132.6 294.4L136.2 300.6L129.0 300.6Z" fill="#000080"/><path d="M134.0 294.4L137.6 300.6L130.4 300.6Z" fill="#000080"/><path d="M135.0 294.4L138.6 300.6L131.4 300.6Z" fill="#000080"/><path d="M136.5 294.4L140.1 300.6L132.9 300.6Z" fill="#000080"/><path d="M138.9 294.4L142.5 300.6L135.3 300.6Z" fill="#000080"/><path d="M140.3 294.4L143.9 300.6L136.7 300.6Z" fill="#000080"/><path d="M148.5 296.0L152.1 302.2L144.9 302.2Z" fill="#000080"/><path d="M150.5 296.8L154.1 303.0L146.9 303.0Z" fill="#000080"/><path d="M151.8 293.8L155.4 300.0L148.2 300.0Z" fill="#000080"/><path d="M152.2 294.8L155.8 301.0L148.6 301.0Z" fill="#000080"/><path d="M153.9 296.7L157.5 302.9L150.3 302.9Z" fill="#000080"/><path d="M154.6 296.1L158.2 302.3L151.0 302.3Z" fill="#000080"/><path d="M155.7 296.1L159.3 302.3L152.1 302.3Z" fill="#000080"/><path d="M157.2 294.3L160.8 300.5L153.6 300.5Z" fill="#000080"/><path d="M158.7 293.9L162.3 300.1L155.1 300.1Z" fill="#000080"/><path d="M159.6 295.1L163.2 301.3L156.0 301.3Z" fill="#000080"/><path d="M160.9 296.6L164.5 302.8L157.3 302.8Z" fill="#000080"/><path d="M162.3 297.2L165.9 303.4L158.7 303.4Z" fill="#000080"/><path d="M163.5 297.2L167.1 303.4L159.9 303.4Z" fill="#000080"/><path d="M165.0 297.3L168.6 303.5L161.4 303.5Z" fill="#000080"/><path d="M166.1 296.6L169.7 302.8L162.5 302.8Z" fill="#000080"/><path d="M167.3 296.9L170.9 303.1L163.7 303.1Z" fill="#000080"/><path d="M168.6 297.3L172.2 303.5L165.0 303.5Z" fill="#000080"/><path d="M169.2 296.9L172.8 303.1L165.6 303.1Z" fill="#000080"/><path d="M171.1 297.5L174.7 303.7L167.5 303.7Z" fill="#000080"/><path d="M171.3 297.6L174.9 303.8L167.7 303.8Z" fill="#000080"/><path d="M172.5 296.7L176.1 302.9L168.9 302.9Z" fill="#000080"/><path d="M174.6 295.7L178.2 301.9L171.0 301.9Z" fill="#000080"/><path d="M175.9 293.5L179.5 299.7L172.3 299.7Z" fill="#000080"/><path d="M176.3 294.7L179.9 300.9L172.7 300.9Z" fill="#000080"/><path d="M177.7 293.1L181.3 299.3L174.1 299.3Z" fill="#000080"/><path d="M179.1 295.1L182.7 301.3L175.5 301.3Z" fill="#000080"/><path d="M179.6 292.7L183.2 298.9L176.0 298.9Z" fill="#000080"/><path d="M181.8 292.6L185.4 298.8L178.2 298.8Z" fill="#000080"/><path d="M182.7 292.8L186.3 299.0L179.1 299.0Z" fill="#000080"/><path d="M184.0 293.1L187.6 299.3L180.4 299.3Z" fill="#000080"/><path d="M184.6 293.4L188.2 299.6L181.0 299.6Z" fill="#000080"/><path d="M186.2 295.0L189.8 301.2L182.6 301.2Z" fill="#000080"/><path d="M187.8 294.3L191.4 300.5L184.2 300.5Z" fill="#000080"/><path d="M188.0 295.1L191.6 301.3L184.4 301.3Z" fill="#000080"/><path d="M189.4 293.1L193.0 299.3L185.8 299.3Z" fill="#000080"/><path d="M191.4 293.5L195.0 299.7L187.8 299.7Z" fill="#000080"/><path d="M191.6 294.5L195.2 300.7L188.0 300.7Z" fill="#000080"/><path d="M193.8 292.4L197.4 298.6L190.2 298.6Z" fill="#000080"/><path d="M194.5 294.0L198.1 300.2L190.9 300.2Z" fill="#000080"/><path d="M195.4 293.2L199.0 299.4L191.8 299.4Z" fill="#000080"/><path d="M196.9 294.4L200.5 300.6L193.3 300.6Z" fill="#000080"/><path d="M198.3 294.5L201.9 300.7L194.7 300.7Z" fill="#000080"/><path d="M199.2 291.8L202.8 298.0L195.6 298.0Z" fill="#000080"/><path d="M201.1 292.2L204.7 298.4L197.5 298.4Z" fill="#000080"/><path d="M201.3 293.3L204.9 299.5L197.7 299.5Z" fill="#000080"/><path d="M202.8 292.2L206.4 298.4L199.2 298.4Z" fill="#000080"/><path d="M204.3 292.9L207.9 299.1L200.7 299.1Z" fill="#000080"/><path d="M205.2 292.7L208.8 298.9L201.6 298.9Z" fill="#000080"/><circle cx="49.1" cy="280.0" r="3.3" fill="#ff8000"/><circle cx="49.8" cy="280.5" r="3.3" fill="#ff8000"/><circle cx="52.4" cy="280.7" r="3.3" fill="#ff8000"/><circle cx="52.8" cy="279.8" r="3.3" fill="#ff8000"/><circle cx="54.3" cy="281.0" r="3.3" fill="#ff8000"/><circle cx="56.0" cy="280.1" r="3.3" fill="#ff8000"/><circle cx="57.5" cy="280.0" r="3.3" fill="#ff8000"/><circle cx="59.3" cy="280.6" r="3.3" fill="#ff8000"/><circle cx="59.6" cy="281.7" r="3.3" fill="#ff8000"/><circle cx="61.9" cy="280.9" r="3.3" fill="#ff8000"/><circle cx="63.3" cy="281.7" r="3.3" fill="#ff8000"/><circle cx="64.6" cy="281.4" r="3.3" fill="#ff8000"/><circle cx="65.5" cy="281.3" r="3.3" fill="#ff8000"/><circle cx="67.6" cy="281.9" r="3.3" fill="#ff8000"/><circle cx="68.8" cy="282.1" r="3.3" fill="#ff8000"/><circle cx="70.3" cy="281.8" r="3.3" fill="#ff8000"/><circle cx="71.4" cy="282.0" r="3.3" fill="#ff8000"/><circle cx="72.6" cy="282.0" r="3.3" fill="#ff8000"/><circle cx="74.1" cy="281.9" r="3.3" fill="#ff8000"/><circle cx="75.4" cy="281.6" r="3.3" fill="#ff8000"/><circle cx="77.6" cy="281.8" r="3.3" fill="#ff8000"/><circle cx="78.2" cy="282.2" r="3.3" fill="#ff8000"/><circle cx="79.5" cy="282.5" r="3.3" fill="#ff8000"/><circle cx="80.8" cy="282.7" r="3.3" fill="#ff8000"/><circle cx="83.0" cy="283.0" r="3.3" fill="#ff8000"/><circle cx="83.9" cy="282.8" r="3.3" fill="#ff8000"/><circle cx="85.2" cy="282.5" r="3.3" fill="#ff8000"/><circle cx="86.3" cy="282.1" r="3.3" fill="#ff8000"/><circle cx="88.0" cy="281.7" r="3.3" fill="#ff8000"/><circle cx="89.7" cy="281.7" r="3.3" fill="#ff8000"/><circle cx="90.8" cy="281.7" r="3.3" fill="#ff8000"/><circle cx="92.5" cy="281.6" r="3.3" fill="#ff8000"/><circle cx="93.4" cy="281.6" r="3.3" fill="#ff8000"/><circle cx="95.8" cy="281.6" r="3.3" fill="#ff8000"/><circle cx="96.9" cy="281.5" r="3.3" fill="#ff8000"/><circle cx="98.4" cy="281.5" r="3.3" fill="#ff8000"/><circle cx="99.4" cy="281.5" r="3.3" fill="#ff8000"/><circle cx="100.5" cy="281.4" r="3.3" fill="#ff8000"/><circle cx="101.6" cy="281.4" r="3.3" fill="#ff8000"/><circle cx="103.3" cy="281.3" r="3.3" fill="#ff8000"/><circle cx="104.7" cy="281.3" r="3.3" fill="#ff8000"/><circle cx="106.0" cy="281.3" r="3.3" fill="#ff8000"/><circle cx="108.2" cy="281.2" r="3.3" fill="#ff8000"/><circle cx="108.8" cy="281.2" r="3.3" fill="#ff8000"/><circle cx="111.2" cy="281.2" r="3.3" fill="#ff8000"/><circle cx="111.5" cy="281.1" r="3.3" fill="#ff8000"/><circle cx="113.9" cy="281.1" r="3.3" fill="#ff8000"/><circle cx="114.4" cy="281.1" r="3.3" fill="#ff8000"/><circle cx="116.2" cy="281.0" r="3.3" fill="#ff8000"/><circle cx="117.8" cy="281.0" r="3.3" fill="#ff8000"/><circle cx="118.7" cy="280.9" r="3.3" fill="#ff8000"/><circle cx="120.7" cy="280.9" r="3.3" fill="#ff8000"/><circle cx="121.7" cy="280.8" r="3.3" fill="#ff8000"/><circle cx="123.0" cy="280.8" r="3.3" fill="#ff8000"/><circle cx="124.5" cy="280.7" r="3.3" fill="#ff8000"/><circle cx="126.2" cy="280.6" r="3.3" fill="#ff8000"/><circle cx="127.4" cy="280.6" r="3.3" fill="#ff8000"/><circle cx="128.5" cy="280.5" r="3.3" fill="#ff8000"/><circle cx="129.6" cy="280.5" r="3.3" fill="#ff8000"/><circle cx="131.7" cy="280.4" r="3.3" fill="#ff8000"/><circle cx="132.5" cy="280.4" r="3.3" fill="#ff8000"/><circle cx="134.7" cy="280.3" r="3.3" fill="#ff8000"/><circle cx="135.3" cy="280.3" r="3.3" fill="#ff8000"/><circle cx="136.8" cy="280.2" r="3.3" fill="#ff8000"/><circle cx="138.1" cy="280.2" r="3.3" fill="#ff8000"/><circle cx="139.9" cy="280.1" r="3.3" fill="#ff8000"/><circle cx="141.5" cy="280.0" r="3.3" fill="#ff8000"/><circle cx="143.0" cy="280.0" r="3.3" fill="#ff8000"/><circle cx="144.0" cy="279.9" r="3.3" fill="#ff8000"/><circle cx="145.3" cy="279.9" r="3.3" fill="#ff8000"/><circle cx="147.3" cy="279.9" r="3.3" fill="#ff8000"/><circle cx="148.2" cy="280.0" r="3.3" fill="#ff8000"/><circle cx="150.4" cy="280.0" r="3.3" fill="#ff8000"/><circle cx="150.9" cy="280.0" r="3.3" fill="#ff8000"/><circle cx="153.1" cy="280.0" r="3.3" fill="#ff8000"/><circle cx="153.4" cy="280.0" r="3.3" fill="#ff8000"/><circle cx="155.6" cy="280.1" r="3.3" fill="#ff8000"/><circle cx="156.6" cy="280.1" r="3.3" fill="#ff8000"/><circle cx="157.9" cy="280.1" r="3.3" fill="#ff8000"/><circle cx="159.1" cy="280.1" r="3.3" fill="#ff8000"/><circle cx="160.6" cy="280.1" r="3.3" fill="#ff8000"/><circle cx="162.4" cy="280.2" r="3.3" fill="#ff8000"/><circle cx="163.4" cy="280.4" r="3.3" fill="#ff8000"/><circle cx="165.0" cy="280.6" r="3.3" fill="#ff8000"/><circle cx="166.2" cy="280.8" r="3.3" fill="#ff8000"/><circle cx="168.5" cy="281.0" r="3.3" fill="#ff8000"/><circle cx="168.8" cy="281.2" r="3.3" fill="#ff8000"/><circle cx="170.5" cy="281.4" r="3.3" fill="#ff8000"/><circle cx="172.2" cy="281.6" r="3.3" fill="#ff8000"/><circle cx="173.4" cy="281.8" r="3.3" fill="#ff8000"/><circle cx="175.0" cy="282.0" r="3.3" fill="#ff8000"/><circle cx="176.9" cy="281.9" r="3.3" fill="#ff8000"/><circle cx="178.1" cy="281.9" r="3.3" fill="#ff8000"/><circle cx="179.4" cy="281.8" r="3.3" fill="#ff8000"/><circle cx="181.0" cy="281.7" r="3.3" fill="#ff8000"/><circle cx="182.1" cy="281.6" r="3.3" fill="#ff8000"/><circle cx="183.9" cy="281.6" r="3.3" fill="#ff8000"/><circle cx="185.0" cy="281.5" r="3.3" fill="#ff8000"/><circle cx="185.9" cy="281.4" r="3.3" fill="#ff8000"/><circle cx="187.5" cy="281.3" r="3.3" fill="#ff8000"/><circle cx="188.6" cy="281.3" r="3.3" fill="#ff8000"/><circle cx="190.6" cy="281.2" r="3.3" fill="#ff8000"/><circle cx="192.4" cy="281.1" r="3.3" fill="#ff8000"/><circle cx="193.3" cy="281.1" r="3.3" fill="#ff8000"/><circle cx="195.0" cy="281.0" r="3.3" fill="#ff8000"/><circle cx="195.7" cy="280.9" r="3.3" fill="#ff8000"/><circle cx="197.8" cy="280.8" r="3.3" fill="#ff8000"/><circle cx="198.6" cy="280.8" r="3.3" fill="#ff8000"/><circle cx="200.7" cy="280.7" r="3.3" fill="#ff8000"/><circle cx="201.8" cy="280.6" r="3.3" fill="#ff8000"/><circle cx="202.9" cy="280.6" r="3.3" fill="#ff8000"/><circle cx="49.5" cy="294.0" r="3.5" fill="#800000"/><circle cx="51.1" cy="294.0" r="3.5" fill="#800000"/><circle cx="52.5" cy="294.0" r="3.5" fill="#800000"/><circle cx="53.4" cy="294.0" r="3.5" fill="#800000"/><circle cx="56.0" cy="294.0" r="3.5" fill="#800000"/><circle cx="56.4" cy="294.0" r="3.5" fill="#800000"/><circle cx="59.2" cy="294.0" r="3.5" fill="#800000"/><circle cx="60.7" cy="294.0" r="3.5" fill="#800000"/><circle cx="62.1" cy="294.0" r="3.5" fill="#800000"/><circle cx="63.0" cy="294.0" r="3.5" fill="#800000"/><circle cx="64.5" cy="294.0" r="3.5" fill="#800000"/><circle cx="67.1" cy="293.9" r="3.5" fill="#800000"/><circle cx="68.7" cy="293.9" r="3.5" fill="#800000"/><circle cx="69.2" cy="293.9" r="3.5" fill="#800000"/><circle cx="71.8" cy="293.9" r="3.5" fill="#800000"/><circle cx="72.4" cy="293.9" r="3.5" fill="#800000"/><circle cx="74.3" cy="293.9" r="3.5" fill="#800000"/><circle cx="75.7" cy="293.9" r="3.5" fill="#800000"/><circle cx="78.4" cy="293.9" r="3.5" fill="#800000"/><circle cx="79.9" cy="293.9" r="3.5" fill="#800000"/><circle cx="81.0" cy="293.9" r="3.5" fill="#800000"/><circle cx="82.5" cy="293.8" r="3.5" fill="#800000"/><circle cx="84.4" cy="293.7" r="3.5" fill="#800000"/><circle cx="86.1" cy="293.6" r="3.5" fill="#800000"/><circle cx="86.9" cy="293.4" r="3.5" fill="#800000"/><circle cx="89.0" cy="293.3" r="3.5" fill="#800000"/><circle cx="90.4" cy="293.1" r="3.5" fill="#800000"/><circle cx="92.8" cy="293.0" r="3.5" fill="#800000"/><circle cx="94.1" cy="292.9" r="3.5" fill="#800000"/><circle cx="95.0" cy="292.7" r="3.5" fill="#800000"/><circle cx="96.5" cy="292.7" r="3.5" fill="#800000"/><circle cx="98.6" cy="292.7" r="3.5" fill="#800000"/><circle cx="100.3" cy="292.6" r="3.5" fill="#800000"/><circle cx="101.2" cy="292.6" r="3.5" fill="#800000"/><circle cx="103.6" cy="292.6" r="3.5" fill="#800000"/><circle cx="105.1" cy="292.6" r="3.5" fill="#800000"/><circle cx="107.2" cy="292.5" r="3.5" fill="#800000"/><circle cx="108.5" cy="292.5" r="3.5" fill="#800000"/><circle cx="109.6" cy="292.5" r="3.5" fill="#800000"/><circle cx="112.0" cy="292.4" r="3.5" fill="#800000"/><circle cx="112.9" cy="292.4" r="3.5" fill="#800000"/><circle cx="114.2" cy="292.4" r="3.5" fill="#800000"/><circle cx="115.6" cy="292.3" r="3.5" fill="#800000"/><circle cx="118.3" cy="292.3" r="3.5" fill="#800000"/><circle cx="119.5" cy="292.3" r="3.5" fill="#800000"/><circle cx="121.7" cy="282.3" r="3.5" fill="#800000"/><circle cx="123.7" cy="281.8" r="3.5" fill="#800000"/><circle cx="126.7" cy="284.0" r="3.5" fill="#800000"/><circle cx="128.1" cy="284.2" r="3.5" fill="#800000"/><circle cx="130.6" cy="283.6" r="3.5" fill="#800000"/><circle cx="133.1" cy="283.6" r="3.5" fill="#800000"/><circle cx="135.8" cy="282.8" r="3.5" fill="#800000"/><circle cx="137.7" cy="282.3" r="3.5" fill="#800000"/><circle cx="139.6" cy="284.2" r="3.5" fill="#800000"/><circle cx="142.4" cy="283.8" r="3.5" fill="#800000"/><circle cx="144.2" cy="283.6" r="3.5" fill="#800000"/><circle cx="146.1" cy="284.3" r="3.5" fill="#800000"/><circle cx="148.3" cy="284.3" r="3.5" fill="#800000"/><circle cx="150.7" cy="284.1" r="3.5" fill="#800000"/><circle cx="152.6" cy="284.4" r="3.5" fill="#800000"/><circle cx="155.1" cy="284.3" r="3.5" fill="#800000"/><circle cx="157.3" cy="283.8" r="3.5" fill="#800000"/><circle cx="159.9" cy="283.9" r="3.5" fill="#800000"/><circle cx="161.9" cy="284.0" r="3.5" fill="#800000"/><circle cx="163.8" cy="283.9" r="3.5" fill="#800000"/><circle cx="165.6" cy="283.1" r="3.5" fill="#800000"/><circle cx="168.2" cy="284.2" r="3.5" fill="#800000"/><circle cx="170.4" cy="283.1" r="3.5" fill="#800000"/><circle cx="172.3" cy="283.5" r="3.5" fill="#800000"/><circle cx="175.2" cy="281.9" r="3.5" fill="#800000"/><circle cx="177.2" cy="282.4" r="3.5" fill="#800000"/><circle cx="179.7" cy="283.1" r="3.5" fill="#800000"/><circle cx="180.9" cy="283.1" r="3.5" fill="#800000"/><circle cx="184.0" cy="281.6" r="3.5" fill="#800000"/><circle cx="185.3" cy="282.6" r="3.5" fill="#800000"/><circle cx="187.7" cy="280.6" r="3.5" fill="#800000"/><circle cx="190.0" cy="280.3" r="3.5" fill="#800000"/><circle cx="192.4" cy="282.1" r="3.5" fill="#800000"/><circle cx="194.1" cy="280.9" r="3.5" fill="#800000"/><circle cx="197.4" cy="280.6" r="3.5" fill="#800000"/><circle cx="198.9" cy="281.3" r="3.5" fill="#800000"/><circle cx="201.6" cy="280.5" r="3.5" fill="#800000"/><circle cx="203.0" cy="281.1" r="3.5" fill="#800000"/><circle cx="205.4" cy="280.7" r="3.5" fill="#800000"/><circle cx="207.5" cy="280.1" r="3.5" fill="#800000"/><circle cx="209.8" cy="279.4" r="3.5" fill="#800000"/><circle cx="211.6" cy="279.3" r="3.5" fill="#800000"/><circle cx="214.5" cy="278.6" r="3.5" fill="#800000"/><circle cx="216.2" cy="277.9" r="3.5" fill="#800000"/><circle cx="218.5" cy="279.8" r="3.5" fill="#800000"/><circle cx="220.7" cy="278.3" r="3.5" fill="#800000"/><circle cx="222.7" cy="279.6" r="3.5" fill="#800000"/><circle cx="225.8" cy="278.6" r="3.5" fill="#800000"/><circle cx="227.5" cy="276.9" r="3.5" fill="#800000"/><circle cx="229.9" cy="278.5" r="3.5" fill="#800000"/><circle cx="231.5" cy="276.8" r="3.5" fill="#800000"/><circle cx="234.0" cy="276.7" r="3.5" fill="#800000"/><circle cx="236.2" cy="277.3" r="3.5" fill="#800000"/><circle cx="238.8" cy="276.0" r="3.5" fill="#800000"/><circle cx="240.6" cy="277.2" r="3.5" fill="#800000"/><circle cx="243.1" cy="275.3" r="3.5" fill="#800000"/><circle cx="244.8" cy="277.2" r="3.5" fill="#800000"/><circle cx="247.7" cy="277.1" r="3.5" fill="#800000"/><circle cx="249.8" cy="274.4" r="3.5" fill="#800000"/><circle cx="251.3" cy="274.0" r="3.5" fill="#800000"/><circle cx="253.9" cy="275.2" r="3.5" fill="#800000"/><circle cx="256.2" cy="274.1" r="3.5" fill="#800000"/><circle cx="258.7" cy="274.7" r="3.5" fill="#800000"/><circle cx="260.7" cy="272.6" r="3.5" fill="#800000"/><circle cx="262.8" cy="273.1" r="3.5" fill="#800000"/><circle cx="48.9" cy="289.1" r="3.5" fill="#ff0000"/><circle cx="51.0" cy="288.1" r="3.5" fill="#ff0000"/><circle cx="52.0" cy="288.0" r="3.5" fill="#ff0000"/><circle cx="53.9" cy="288.2" r="3.5" fill="#ff0000"/><circle cx="55.3" cy="288.6" r="3.5" fill="#ff0000"/><circle cx="55.9" cy="287.8" r="3.5" fill="#ff0000"/><circle cx="58.1" cy="288.6" r="3.5" fill="#ff0000"/><circle cx="59.8" cy="288.9" r="3.5" fill="#ff0000"/><circle cx="60.7" cy="287.0" r="3.5" fill="#ff0000"/><circle cx="62.9" cy="286.9" r="3.5" fill="#ff0000"/><circle cx="63.5" cy="286.9" r="3.5" fill="#ff0000"/><circle cx="65.6" cy="288.8" r="3.5" fill="#ff0000"/><circle cx="67.2" cy="286.8" r="3.5" fill="#ff0000"/><circle cx="68.5" cy="288.7" r="3.5" fill="#ff0000"/><circle cx="70.2" cy="286.7" r="3.5" fill="#ff0000"/><circle cx="71.6" cy="287.8" r="3.5" fill="#ff0000"/><circle cx="73.4" cy="289.5" r="3.5" fill="#ff0000"/><circle cx="74.1" cy="289.1" r="3.5" fill="#ff0000"/><circle cx="76.0" cy="287.5" r="3.5" fill="#ff0000"/><circle cx="78.1" cy="286.5" r="3.5" fill="#ff0000"/><circle cx="78.7" cy="287.3" r="3.5" fill="#ff0000"/><circle cx="80.2" cy="287.4" r="3.5" fill="#ff0000"/><circle cx="82.1" cy="291.0" r="3.5" fill="#ff0000"/><circle cx="83.4" cy="290.5" r="3.5" fill="#ff0000"/><circle cx="84.8" cy="289.9" r="3.5" fill="#ff0000"/><circle cx="86.9" cy="290.7" r="3.5" fill="#ff0000"/><circle cx="87.7" cy="290.6" r="3.5" fill="#ff0000"/><circle cx="89.0" cy="289.7" r="3.5" fill="#ff0000"/><circle cx="90.8" cy="290.1" r="3.5" fill="#ff0000"/><circle cx="92.5" cy="289.9" r="3.5" fill="#ff0000"/><circle cx="93.8" cy="289.9" r="3.5" fill="#ff0000"/><circle cx="95.1" cy="290.1" r="3.5" fill="#ff0000"/><circle cx="97.1" cy="290.2" r="3.5" fill="#ff0000"/><circle cx="98.3" cy="288.6" r="3.5" fill="#ff0000"/><circle cx="99.9" cy="289.2" r="3.5" fill="#ff0000"/><circle cx="101.3" cy="289.0" r="3.5" fill="#ff0000"/><circle cx="103.4" cy="288.3" r="3.5" fill="#ff0000"/><circle cx="104.8" cy="288.2" r="3.5" fill="#ff0000"/><circle cx="106.1" cy="288.9" r="3.5" fill="#ff0000"/><circle cx="108.0" cy="288.1" r="3.5" fill="#ff0000"/><circle cx="109.5" cy="287.9" r="3.5" fill="#ff0000"/><circle cx="110.4" cy="286.9" r="3.5" fill="#ff0000"/><circle cx="111.5" cy="288.0" r="3.5" fill="#ff0000"/><circle cx="113.0" cy="288.3" r="3.5" fill="#ff0000"/><circle cx="114.6" cy="287.5" r="3.5" fill="#ff0000"/><circle cx="116.6" cy="288.2" r="3.5" fill="#ff0000"/><circle cx="118.0" cy="287.7" r="3.5" fill="#ff0000"/><circle cx="119.7" cy="287.2" r="3.5" fill="#ff0000"/><circle cx="121.2" cy="292.3" r="3.5" fill="#ff0000"/><circle cx="122.7" cy="292.8" r="3.5" fill="#ff0000"/><circle cx="124.3" cy="292.9" r="3.5" fill="#ff0000"/><circle cx="125.8" cy="292.0" r="3.5" fill="#ff0000"/><circle cx="128.4" cy="292.4" r="3.5" fill="#ff0000"/><circle cx="129.7" cy="291.9" r="3.5" fill="#ff0000"/><circle cx="131.6" cy="291.6" r="3.5" fill="#ff0000"/><circle cx="132.3" cy="291.8" r="3.5" fill="#ff0000"/><circle cx="134.5" cy="291.1" r="3.5" fill="#ff0000"/><circle cx="136.3" cy="290.9" r="3.5" fill="#ff0000"/><circle cx="137.2" cy="290.9" r="3.5" fill="#ff0000"/><circle cx="138.9" cy="290.9" r="3.5" fill="#ff0000"/><circle cx="140.3" cy="290.7" r="3.5" fill="#ff0000"/><circle cx="142.1" cy="290.8" r="3.5" fill="#ff0000"/><circle cx="143.5" cy="290.5" r="3.5" fill="#ff0000"/><circle cx="146.1" cy="290.4" r="3.5" fill="#ff0000"/><circle cx="146.5" cy="289.9" r="3.5" fill="#ff0000"/><circle cx="148.9" cy="289.7" r="3.5" fill="#ff0000"/><circle cx="150.4" cy="289.3" r="3.5" fill="#ff0000"/><circle cx="151.9" cy="289.1" r="3.5" fill="#ff0000"/><circle cx="153.4" cy="290.0" r="3.5" fill="#ff0000"/><circle cx="154.6" cy="289.9" r="3.5" fill="#ff0000"/><circle cx="156.2" cy="290.1" r="3.5" fill="#ff0000"/><circle cx="158.9" cy="290.2" r="3.5" fill="#ff0000"/><circle cx="159.9" cy="290.2" r="3.5" fill="#ff0000"/><circle cx="161.3" cy="289.0" r="3.5" fill="#ff0000"/><circle cx="163.1" cy="289.8" r="3.5" fill="#ff0000"/><circle cx="164.2" cy="290.1" r="3.5" fill="#ff0000"/><circle cx="166.7" cy="289.2" r="3.5" fill="#ff0000"/><circle cx="167.9" cy="289.4" r="3.5" fill="#ff0000"/><circle cx="169.1" cy="288.3" r="3.5" fill="#ff0000"/><circle cx="171.6" cy="288.6" r="3.5" fill="#ff0000"/><circle cx="172.4" cy="289.7" r="3.5" fill="#ff0000"/><circle cx="173.7" cy="289.8" r="3.5" fill="#ff0000"/><circle cx="176.5" cy="289.1" r="3.5" fill="#ff0000"/><circle cx="178.0" cy="288.5" r="3.5" fill="#ff0000"/><circle cx="178.6" cy="289.0" r="3.5" fill="#ff0000"/><circle cx="180.6" cy="288.3" r="3.5" fill="#ff0000"/><circle cx="182.6" cy="288.1" r="3.5" fill="#ff0000"/><circle cx="184.2" cy="287.8" r="3.5" fill="#ff0000"/><circle cx="185.0" cy="288.0" r="3.5" fill="#ff0000"/><circle cx="186.6" cy="288.5" r="3.5" fill="#ff0000"/><circle cx="189.0" cy="288.4" r="3.5" fill="#ff0000"/><circle cx="190.3" cy="288.4" r="3.5" fill="#ff0000"/><circle cx="191.9" cy="287.2" r="3.5" fill="#ff0000"/><circle cx="193.7" cy="287.3" r="3.5" fill="#ff0000"/><circle cx="195.2" cy="287.2" r="3.5" fill="#ff0000"/><circle cx="196.5" cy="287.6" r="3.5" fill="#ff0000"/><circle cx="197.9" cy="288.1" r="3.5" fill="#ff0000"/><circle cx="200.4" cy="287.1" r="3.5" fill="#ff0000"/><circle cx="201.9" cy="287.3" r="3.5" fill="#ff0000"/><circle cx="203.1" cy="288.3" r="3.5" fill="#ff0000"/><circle cx="204.2" cy="286.8" r="3.5" fill="#ff0000"/><circle cx="205.8" cy="288.2" r="3.5" fill="#ff0000"/><circle cx="207.9" cy="287.3" r="3.5" fill="#ff0000"/><circle cx="209.5" cy="286.3" r="3.5" fill="#ff0000"/><circle cx="211.1" cy="286.3" r="3.5" fill="#ff0000"/><circle cx="212.5" cy="287.0" r="3.5" fill="#ff0000"/><circle cx="214.2" cy="286.1" r="3.5" fill="#ff0000"/><circle cx="215.5" cy="286.0" r="3.5" fill="#ff0000"/><circle cx="217.9" cy="285.9" r="3.5" fill="#ff0000"/><circle cx="219.6" cy="286.6" r="3.5" fill="#ff0000"/><circle cx="221.2" cy="285.2" r="3.5" fill="#ff0000"/><circle cx="222.6" cy="286.8" r="3.5" fill="#ff0000"/><circle cx="224.1" cy="287.3" r="3.5" fill="#ff0000"/><circle cx="225.8" cy="286.5" r="3.5" fill="#ff0000"/><circle cx="226.8" cy="286.5" r="3.5" fill="#ff0000"/><circle cx="228.6" cy="286.4" r="3.5" fill="#ff0000"/><circle cx="230.1" cy="287.8" r="3.5" fill="#ff0000"/><circle cx="231.4" cy="288.1" r="3.5" fill="#ff0000"/><circle cx="233.2" cy="286.7" r="3.5" fill="#ff0000"/><circle cx="235.4" cy="286.1" r="3.5" fill="#ff0000"/><circle cx="236.2" cy="285.9" r="3.5" fill="#ff0000"/><circle cx="238.4" cy="285.0" r="3.5" fill="#ff0000"/><circle cx="239.3" cy="286.2" r="3.5" fill="#ff0000"/><circle cx="241.7" cy="285.5" r="3.5" fill="#ff0000"/><circle cx="242.9" cy="285.7" r="3.5" fill="#ff0000"/><circle cx="244.7" cy="285.7" r="3.5" fill="#ff0000"/><circle cx="245.7" cy="285.7" r="3.5" fill="#ff0000"/><circle cx="247.8" cy="285.6" r="3.5" fill="#ff0000"/><circle cx="249.0" cy="284.9" r="3.5" fill="#ff0000"/><circle cx="238.2" cy="286.2" r="3.5" fill="#ff0000"/><circle cx="243.0" cy="283.8" r="3.5" fill="#ff0000"/><circle cx="248.7" cy="288.6" r="3.5" fill="#ff0000"/><circle cx="249.5" cy="282.2" r="3.5" fill="#ff0000"/><circle cx="255.9" cy="280.5" r="3.5" fill="#ff0000"/><circle cx="257.5" cy="277.3" r="3.5" fill="#ff0000"/><circle cx="262.3" cy="276.5" r="3.5" fill="#ff0000"/><circle cx="267.2" cy="273.3" r="3.5" fill="#ff0000"/><circle cx="270.4" cy="278.1" r="3.5" fill="#ff0000"/><circle cx="273.6" cy="274.1" r="3.5" fill="#ff0000"/><circle cx="277.6" cy="279.7" r="3.5" fill="#ff0000"/><circle cx="281.6" cy="275.7" r="3.5" fill="#ff0000"/><circle cx="284.8" cy="270.9" r="3.5" fill="#ff0000"/><circle cx="288.9" cy="270.1" r="3.5" fill="#ff0000"/><circle cx="290.5" cy="275.7" r="3.5" fill="#ff0000"/><circle cx="294.5" cy="274.1" r="3.5" fill="#ff0000"/><circle cx="297.7" cy="280.5" r="3.5" fill="#ff0000"/><circle cx="298.5" cy="276.5" r="3.5" fill="#ff0000"/><circle cx="302.5" cy="268.5" r="3.5" fill="#ff0000"/><circle cx="304.1" cy="273.3" r="3.5" fill="#ff0000"/><circle cx="308.2" cy="270.1" r="3.5" fill="#ff0000"/><circle cx="308.2" cy="273.3" r="3.5" fill="#ff0000"/><circle cx="252.0" cy="284.0" r="3.5" fill="#ff0000"/><circle cx="260.0" cy="279.0" r="3.5" fill="#ff0000"/><circle cx="265.0" cy="276.0" r="3.5" fill="#ff0000"/><circle cx="275.0" cy="276.0" r="3.5" fill="#ff0000"/><circle cx="286.0" cy="273.0" r="3.5" fill="#ff0000"/><circle cx="292.0" cy="272.0" r="3.5" fill="#ff0000"/><circle cx="300.0" cy="272.0" r="3.5" fill="#ff0000"/><circle cx="306.0" cy="271.0" r="3.5" fill="#ff0000"/></g><rect x="48.3" y="19.7" width="300.4" height="36.8" fill="none" stroke="#8a8a8a" stroke-width="1"/><line x1="49.40" y1="27.60" x2="75.70" y2="27.60" stroke="#0000ff" stroke-width="1.7"/><path d="M62.5 24.2L66.1 30.4L58.9 30.4Z" fill="#0000ff"/><text x="78.6" y="31.7" font-size="11.4" fill="#111">PSF-1.7<tspan dx="0.9" dy="3" font-size="11">140h</tspan></text><line x1="152.20" y1="27.60" x2="178.60" y2="27.60" stroke="#00ffff" stroke-width="1.7"/><path d="M165.4 24.2L169.0 30.4L161.8 30.4Z" fill="#00ffff"/><text x="181.8" y="31.7" font-size="11.4" fill="#111">PSF-1.7<tspan dx="0.9" dy="3" font-size="11">160h</tspan></text><line x1="250.90" y1="27.60" x2="277.70" y2="27.60" stroke="#000080" stroke-width="1.7"/><path d="M264.3 24.2L267.9 30.4L260.7 30.4Z" fill="#000080"/><text x="280.9" y="31.7" font-size="11.4" fill="#111">PSF-1.7<tspan dx="0.9" dy="3" font-size="11">175h</tspan></text><line x1="49.40" y1="45.20" x2="75.70" y2="45.20" stroke="#ff8000" stroke-width="1.7"/><circle cx="62.5" cy="45.2" r="3.1" fill="#ff8000"/><text x="78.6" y="49.3" font-size="11.4" fill="#111">PSF-1.5<tspan dx="0.9" dy="3" font-size="11">180h</tspan></text><line x1="152.20" y1="45.20" x2="178.60" y2="45.20" stroke="#800000" stroke-width="1.7"/><circle cx="165.4" cy="45.2" r="3.1" fill="#800000"/><text x="181.8" y="49.3" font-size="11.4" fill="#111">PSF-1.5<tspan dx="0.9" dy="3" font-size="11">250h</tspan></text><line x1="250.90" y1="45.20" x2="277.70" y2="45.20" stroke="#ff0000" stroke-width="1.7"/><circle cx="264.3" cy="45.2" r="3.1" fill="#ff0000"/><text x="280.9" y="49.3" font-size="11.4" fill="#111">PSF-1.5<tspan dx="0.9" dy="3" font-size="11">300h</tspan></text><circle cx="147.6" cy="46.0" r="0.9" fill="#333"/><line x1="48.30" y1="19.70" x2="350.40" y2="19.70" stroke="#333333" stroke-width="1.3"/><line x1="48.30" y1="19.70" x2="48.30" y2="341.30" stroke="#333333" stroke-width="1.3"/><line x1="350.40" y1="19.70" x2="350.40" y2="335.20" stroke="#333333" stroke-width="1.3"/><line x1="48.30" y1="335.20" x2="350.40" y2="335.20" stroke="#333333" stroke-width="1.3"/><line x1="42.20" y1="335.20" x2="48.30" y2="335.20" stroke="#333333" stroke-width="1.3"/><text x="36.3" y="340.5" font-size="12.1" text-anchor="end" font-weight="normal" fill="#111" >0.0</text><line x1="45.00" y1="319.43" x2="48.30" y2="319.43" stroke="#333333" stroke-width="1.3"/><line x1="42.20" y1="303.65" x2="48.30" y2="303.65" stroke="#333333" stroke-width="1.3"/><text x="36.3" y="308.9" font-size="12.1" text-anchor="end" font-weight="normal" fill="#111" >0.1</text><line x1="45.00" y1="287.88" x2="48.30" y2="287.88" stroke="#333333" stroke-width="1.3"/><line x1="42.20" y1="272.10" x2="48.30" y2="272.10" stroke="#333333" stroke-width="1.3"/><text x="36.3" y="277.4" font-size="12.1" text-anchor="end" font-weight="normal" fill="#111" >0.2</text><line x1="45.00" y1="256.32" x2="48.30" y2="256.32" stroke="#333333" stroke-width="1.3"/><line x1="42.20" y1="240.55" x2="48.30" y2="240.55" stroke="#333333" stroke-width="1.3"/><text x="36.3" y="245.8" font-size="12.1" text-anchor="end" font-weight="normal" fill="#111" >0.3</text><line x1="45.00" y1="224.77" x2="48.30" y2="224.77" stroke="#333333" stroke-width="1.3"/><line x1="42.20" y1="209.00" x2="48.30" y2="209.00" stroke="#333333" stroke-width="1.3"/><text x="36.3" y="214.3" font-size="12.1" text-anchor="end" font-weight="normal" fill="#111" >0.4</text><line x1="45.00" y1="193.22" x2="48.30" y2="193.22" stroke="#333333" stroke-width="1.3"/><line x1="42.20" y1="177.45" x2="48.30" y2="177.45" stroke="#333333" stroke-width="1.3"/><text x="36.3" y="182.8" font-size="12.1" text-anchor="end" font-weight="normal" fill="#111" >0.5</text><line x1="45.00" y1="161.67" x2="48.30" y2="161.67" stroke="#333333" stroke-width="1.3"/><line x1="42.20" y1="145.90" x2="48.30" y2="145.90" stroke="#333333" stroke-width="1.3"/><text x="36.3" y="151.2" font-size="12.1" text-anchor="end" font-weight="normal" fill="#111" >0.6</text><line x1="45.00" y1="130.12" x2="48.30" y2="130.12" stroke="#333333" stroke-width="1.3"/><line x1="42.20" y1="114.35" x2="48.30" y2="114.35" stroke="#333333" stroke-width="1.3"/><text x="36.3" y="119.6" font-size="12.1" text-anchor="end" font-weight="normal" fill="#111" >0.7</text><line x1="45.00" y1="98.57" x2="48.30" y2="98.57" stroke="#333333" stroke-width="1.3"/><line x1="42.20" y1="82.80" x2="48.30" y2="82.80" stroke="#333333" stroke-width="1.3"/><text x="36.3" y="88.1" font-size="12.1" text-anchor="end" font-weight="normal" fill="#111" >0.8</text><line x1="45.00" y1="67.02" x2="48.30" y2="67.02" stroke="#333333" stroke-width="1.3"/><line x1="42.20" y1="51.25" x2="48.30" y2="51.25" stroke="#333333" stroke-width="1.3"/><text x="36.3" y="56.5" font-size="12.1" text-anchor="end" font-weight="normal" fill="#111" >0.9</text><line x1="45.00" y1="35.47" x2="48.30" y2="35.47" stroke="#333333" stroke-width="1.3"/><line x1="42.20" y1="19.70" x2="48.30" y2="19.70" stroke="#333333" stroke-width="1.3"/><text x="36.3" y="25.0" font-size="12.1" text-anchor="end" font-weight="normal" fill="#111" >1.0</text><line x1="350.40" y1="335.20" x2="355.80" y2="335.20" stroke="#333333" stroke-width="1.3"/><text x="359.5" y="339.6" font-size="12.1" text-anchor="start" font-weight="normal" fill="#111" >0.0</text><line x1="350.40" y1="308.91" x2="352.90" y2="308.91" stroke="#333333" stroke-width="1.3"/><line x1="350.40" y1="282.62" x2="355.80" y2="282.62" stroke="#333333" stroke-width="1.3"/><text x="359.5" y="287.0" font-size="12.1" text-anchor="start" font-weight="normal" fill="#111" >0.1</text><line x1="350.40" y1="256.33" x2="352.90" y2="256.33" stroke="#333333" stroke-width="1.3"/><line x1="350.40" y1="230.04" x2="355.80" y2="230.04" stroke="#333333" stroke-width="1.3"/><text x="359.5" y="234.4" font-size="12.1" text-anchor="start" font-weight="normal" fill="#111" >0.2</text><line x1="350.40" y1="203.75" x2="352.90" y2="203.75" stroke="#333333" stroke-width="1.3"/><line x1="350.40" y1="177.46" x2="355.80" y2="177.46" stroke="#333333" stroke-width="1.3"/><text x="359.5" y="181.9" font-size="12.1" text-anchor="start" font-weight="normal" fill="#111" >0.3</text><line x1="350.40" y1="151.17" x2="352.90" y2="151.17" stroke="#333333" stroke-width="1.3"/><line x1="350.40" y1="124.88" x2="355.80" y2="124.88" stroke="#333333" stroke-width="1.3"/><text x="359.5" y="129.3" font-size="12.1" text-anchor="start" font-weight="normal" fill="#111" >0.4</text><line x1="350.40" y1="98.59" x2="352.90" y2="98.59" stroke="#333333" stroke-width="1.3"/><line x1="350.40" y1="72.30" x2="355.80" y2="72.30" stroke="#333333" stroke-width="1.3"/><text x="359.5" y="76.7" font-size="12.1" text-anchor="start" font-weight="normal" fill="#111" >0.5</text><line x1="350.40" y1="46.01" x2="352.90" y2="46.01" stroke="#333333" stroke-width="1.3"/><line x1="350.40" y1="19.72" x2="355.80" y2="19.72" stroke="#333333" stroke-width="1.3"/><text x="359.5" y="24.1" font-size="12.1" text-anchor="start" font-weight="normal" fill="#111" >0.6</text><line x1="48.30" y1="335.20" x2="48.30" y2="341.30" stroke="#333333" stroke-width="1.3"/><text x="43.3" y="357.2" font-size="12.1" text-anchor="middle" font-weight="normal" fill="#111" >0</text><line x1="69.87" y1="335.20" x2="69.87" y2="338.20" stroke="#333333" stroke-width="1.3"/><line x1="91.44" y1="335.20" x2="91.44" y2="341.30" stroke="#333333" stroke-width="1.3"/><text x="86.4" y="357.2" font-size="12.1" text-anchor="middle" font-weight="normal" fill="#111" >50</text><line x1="113.02" y1="335.20" x2="113.02" y2="338.20" stroke="#333333" stroke-width="1.3"/><line x1="134.59" y1="335.20" x2="134.59" y2="341.30" stroke="#333333" stroke-width="1.3"/><text x="129.6" y="357.2" font-size="12.1" text-anchor="middle" font-weight="normal" fill="#111" >100</text><line x1="156.16" y1="335.20" x2="156.16" y2="338.20" stroke="#333333" stroke-width="1.3"/><line x1="177.74" y1="335.20" x2="177.74" y2="341.30" stroke="#333333" stroke-width="1.3"/><text x="172.7" y="357.2" font-size="12.1" text-anchor="middle" font-weight="normal" fill="#111" >150</text><line x1="199.31" y1="335.20" x2="199.31" y2="338.20" stroke="#333333" stroke-width="1.3"/><line x1="220.88" y1="335.20" x2="220.88" y2="341.30" stroke="#333333" stroke-width="1.3"/><text x="215.9" y="357.2" font-size="12.1" text-anchor="middle" font-weight="normal" fill="#111" >200</text><line x1="242.45" y1="335.20" x2="242.45" y2="338.20" stroke="#333333" stroke-width="1.3"/><line x1="264.02" y1="335.20" x2="264.02" y2="341.30" stroke="#333333" stroke-width="1.3"/><text x="259.0" y="357.2" font-size="12.1" text-anchor="middle" font-weight="normal" fill="#111" >250</text><line x1="285.60" y1="335.20" x2="285.60" y2="338.20" stroke="#333333" stroke-width="1.3"/><line x1="307.17" y1="335.20" x2="307.17" y2="341.30" stroke="#333333" stroke-width="1.3"/><text x="302.2" y="357.2" font-size="12.1" text-anchor="middle" font-weight="normal" fill="#111" >300</text><line x1="328.74" y1="335.20" x2="328.74" y2="338.20" stroke="#333333" stroke-width="1.3"/><line x1="350.31" y1="335.20" x2="350.31" y2="341.30" stroke="#333333" stroke-width="1.3"/><text x="345.3" y="357.2" font-size="12.1" text-anchor="middle" font-weight="normal" fill="#111" >350</text><text x="199.4" y="370.0" font-size="11.7" text-anchor="middle" font-weight="bold" fill="#111" >Time (h)</text><text x="0.4" y="24.1" font-size="14.3" text-anchor="start" font-weight="normal" fill="#111" >(a)</text><text transform="translate(13.0,192.2) rotate(-90)" font-size="12.7" font-weight="bold" fill="#111">E<tspan dy="2.9" font-size="11.1">cell</tspan><tspan dy="-2.9"> (V)</tspan></text><text transform="translate(389.6,211.3) rotate(-90)" font-size="12.3" font-weight="bold" fill="#111">HFR <tspan font-weight="normal">(Ω-cm</tspan><tspan font-weight="normal" font-size="8.6" dy="-4.3">2</tspan><tspan font-weight="normal" dy="4.3">)</tspan></text><line x1="430.70" y1="15.50" x2="430.70" y2="332.20" stroke="#333333" stroke-width="1.3"/><line x1="635.50" y1="19.00" x2="635.50" y2="332.20" stroke="#333333" stroke-width="1.3"/><line x1="430.70" y1="19.00" x2="635.50" y2="19.00" stroke="#333333" stroke-width="1.3"/><line x1="430.70" y1="19.00" x2="430.70" y2="15.50" stroke="#333333" stroke-width="1.3"/><line x1="446.44" y1="19.00" x2="446.44" y2="17.20" stroke="#333333" stroke-width="1.3"/><line x1="462.18" y1="19.00" x2="462.18" y2="15.50" stroke="#333333" stroke-width="1.3"/><line x1="477.92" y1="19.00" x2="477.92" y2="17.20" stroke="#333333" stroke-width="1.3"/><line x1="493.66" y1="19.00" x2="493.66" y2="15.50" stroke="#333333" stroke-width="1.3"/><line x1="509.40" y1="19.00" x2="509.40" y2="17.20" stroke="#333333" stroke-width="1.3"/><line x1="525.14" y1="19.00" x2="525.14" y2="15.50" stroke="#333333" stroke-width="1.3"/><line x1="540.88" y1="19.00" x2="540.88" y2="17.20" stroke="#333333" stroke-width="1.3"/><line x1="556.62" y1="19.00" x2="556.62" y2="15.50" stroke="#333333" stroke-width="1.3"/><line x1="572.36" y1="19.00" x2="572.36" y2="17.20" stroke="#333333" stroke-width="1.3"/><line x1="588.10" y1="19.00" x2="588.10" y2="15.50" stroke="#333333" stroke-width="1.3"/><line x1="603.84" y1="19.00" x2="603.84" y2="17.20" stroke="#333333" stroke-width="1.3"/><line x1="619.58" y1="19.00" x2="619.58" y2="15.50" stroke="#333333" stroke-width="1.3"/><line x1="635.32" y1="19.00" x2="635.32" y2="17.20" stroke="#333333" stroke-width="1.3"/><line x1="430.70" y1="123.20" x2="635.50" y2="123.20" stroke="#333333" stroke-width="1.3"/><line x1="430.70" y1="123.20" x2="430.70" y2="119.70" stroke="#333333" stroke-width="1.3"/><line x1="446.44" y1="123.20" x2="446.44" y2="121.40" stroke="#333333" stroke-width="1.3"/><line x1="462.18" y1="123.20" x2="462.18" y2="119.70" stroke="#333333" stroke-width="1.3"/><line x1="477.92" y1="123.20" x2="477.92" y2="121.40" stroke="#333333" stroke-width="1.3"/><line x1="493.66" y1="123.20" x2="493.66" y2="119.70" stroke="#333333" stroke-width="1.3"/><line x1="509.40" y1="123.20" x2="509.40" y2="121.40" stroke="#333333" stroke-width="1.3"/><line x1="525.14" y1="123.20" x2="525.14" y2="119.70" stroke="#333333" stroke-width="1.3"/><line x1="540.88" y1="123.20" x2="540.88" y2="121.40" stroke="#333333" stroke-width="1.3"/><line x1="556.62" y1="123.20" x2="556.62" y2="119.70" stroke="#333333" stroke-width="1.3"/><line x1="572.36" y1="123.20" x2="572.36" y2="121.40" stroke="#333333" stroke-width="1.3"/><line x1="588.10" y1="123.20" x2="588.10" y2="119.70" stroke="#333333" stroke-width="1.3"/><line x1="603.84" y1="123.20" x2="603.84" y2="121.40" stroke="#333333" stroke-width="1.3"/><line x1="619.58" y1="123.20" x2="619.58" y2="119.70" stroke="#333333" stroke-width="1.3"/><line x1="635.32" y1="123.20" x2="635.32" y2="121.40" stroke="#333333" stroke-width="1.3"/><line x1="430.70" y1="227.80" x2="635.50" y2="227.80" stroke="#333333" stroke-width="1.3"/><line x1="430.70" y1="227.80" x2="430.70" y2="224.30" stroke="#333333" stroke-width="1.3"/><line x1="446.44" y1="227.80" x2="446.44" y2="226.00" stroke="#333333" stroke-width="1.3"/><line x1="462.18" y1="227.80" x2="462.18" y2="224.30" stroke="#333333" stroke-width="1.3"/><line x1="477.92" y1="227.80" x2="477.92" y2="226.00" stroke="#333333" stroke-width="1.3"/><line x1="493.66" y1="227.80" x2="493.66" y2="224.30" stroke="#333333" stroke-width="1.3"/><line x1="509.40" y1="227.80" x2="509.40" y2="226.00" stroke="#333333" stroke-width="1.3"/><line x1="525.14" y1="227.80" x2="525.14" y2="224.30" stroke="#333333" stroke-width="1.3"/><line x1="540.88" y1="227.80" x2="540.88" y2="226.00" stroke="#333333" stroke-width="1.3"/><line x1="556.62" y1="227.80" x2="556.62" y2="224.30" stroke="#333333" stroke-width="1.3"/><line x1="572.36" y1="227.80" x2="572.36" y2="226.00" stroke="#333333" stroke-width="1.3"/><line x1="588.10" y1="227.80" x2="588.10" y2="224.30" stroke="#333333" stroke-width="1.3"/><line x1="603.84" y1="227.80" x2="603.84" y2="226.00" stroke="#333333" stroke-width="1.3"/><line x1="619.58" y1="227.80" x2="619.58" y2="224.30" stroke="#333333" stroke-width="1.3"/><line x1="635.32" y1="227.80" x2="635.32" y2="226.00" stroke="#333333" stroke-width="1.3"/><line x1="430.70" y1="332.20" x2="635.50" y2="332.20" stroke="#333333" stroke-width="1.3"/><line x1="430.70" y1="332.20" x2="430.70" y2="328.70" stroke="#333333" stroke-width="1.3"/><line x1="446.44" y1="332.20" x2="446.44" y2="330.40" stroke="#333333" stroke-width="1.3"/><line x1="462.18" y1="332.20" x2="462.18" y2="328.70" stroke="#333333" stroke-width="1.3"/><line x1="477.92" y1="332.20" x2="477.92" y2="330.40" stroke="#333333" stroke-width="1.3"/><line x1="493.66" y1="332.20" x2="493.66" y2="328.70" stroke="#333333" stroke-width="1.3"/><line x1="509.40" y1="332.20" x2="509.40" y2="330.40" stroke="#333333" stroke-width="1.3"/><line x1="525.14" y1="332.20" x2="525.14" y2="328.70" stroke="#333333" stroke-width="1.3"/><line x1="540.88" y1="332.20" x2="540.88" y2="330.40" stroke="#333333" stroke-width="1.3"/><line x1="556.62" y1="332.20" x2="556.62" y2="328.70" stroke="#333333" stroke-width="1.3"/><line x1="572.36" y1="332.20" x2="572.36" y2="330.40" stroke="#333333" stroke-width="1.3"/><line x1="588.10" y1="332.20" x2="588.10" y2="328.70" stroke="#333333" stroke-width="1.3"/><line x1="603.84" y1="332.20" x2="603.84" y2="330.40" stroke="#333333" stroke-width="1.3"/><line x1="619.58" y1="332.20" x2="619.58" y2="328.70" stroke="#333333" stroke-width="1.3"/><line x1="635.32" y1="332.20" x2="635.32" y2="330.40" stroke="#333333" stroke-width="1.3"/><line x1="430.70" y1="123.20" x2="434.20" y2="123.20" stroke="#333333" stroke-width="1.3"/><line x1="430.70" y1="112.78" x2="432.70" y2="112.78" stroke="#333333" stroke-width="1.3"/><line x1="430.70" y1="102.36" x2="434.20" y2="102.36" stroke="#333333" stroke-width="1.3"/><line x1="430.70" y1="91.94" x2="432.70" y2="91.94" stroke="#333333" stroke-width="1.3"/><line x1="430.70" y1="81.52" x2="434.20" y2="81.52" stroke="#333333" stroke-width="1.3"/><line x1="430.70" y1="71.10" x2="432.70" y2="71.10" stroke="#333333" stroke-width="1.3"/><line x1="430.70" y1="60.68" x2="434.20" y2="60.68" stroke="#333333" stroke-width="1.3"/><line x1="430.70" y1="50.26" x2="432.70" y2="50.26" stroke="#333333" stroke-width="1.3"/><line x1="430.70" y1="39.84" x2="434.20" y2="39.84" stroke="#333333" stroke-width="1.3"/><line x1="430.70" y1="29.42" x2="432.70" y2="29.42" stroke="#333333" stroke-width="1.3"/><line x1="430.70" y1="19.00" x2="434.20" y2="19.00" stroke="#333333" stroke-width="1.3"/><line x1="430.70" y1="227.80" x2="434.20" y2="227.80" stroke="#333333" stroke-width="1.3"/><line x1="430.70" y1="217.34" x2="432.70" y2="217.34" stroke="#333333" stroke-width="1.3"/><line x1="430.70" y1="206.88" x2="434.20" y2="206.88" stroke="#333333" stroke-width="1.3"/><line x1="430.70" y1="196.42" x2="432.70" y2="196.42" stroke="#333333" stroke-width="1.3"/><line x1="430.70" y1="185.96" x2="434.20" y2="185.96" stroke="#333333" stroke-width="1.3"/><line x1="430.70" y1="175.50" x2="432.70" y2="175.50" stroke="#333333" stroke-width="1.3"/><line x1="430.70" y1="165.04" x2="434.20" y2="165.04" stroke="#333333" stroke-width="1.3"/><line x1="430.70" y1="154.58" x2="432.70" y2="154.58" stroke="#333333" stroke-width="1.3"/><line x1="430.70" y1="144.12" x2="434.20" y2="144.12" stroke="#333333" stroke-width="1.3"/><line x1="430.70" y1="133.66" x2="432.70" y2="133.66" stroke="#333333" stroke-width="1.3"/><line x1="430.70" y1="123.20" x2="434.20" y2="123.20" stroke="#333333" stroke-width="1.3"/><line x1="430.70" y1="332.20" x2="434.20" y2="332.20" stroke="#333333" stroke-width="1.3"/><line x1="430.70" y1="321.76" x2="432.70" y2="321.76" stroke="#333333" stroke-width="1.3"/><line x1="430.70" y1="311.32" x2="434.20" y2="311.32" stroke="#333333" stroke-width="1.3"/><line x1="430.70" y1="300.88" x2="432.70" y2="300.88" stroke="#333333" stroke-width="1.3"/><line x1="430.70" y1="290.44" x2="434.20" y2="290.44" stroke="#333333" stroke-width="1.3"/><line x1="430.70" y1="280.00" x2="432.70" y2="280.00" stroke="#333333" stroke-width="1.3"/><line x1="430.70" y1="269.56" x2="434.20" y2="269.56" stroke="#333333" stroke-width="1.3"/><line x1="430.70" y1="259.12" x2="432.70" y2="259.12" stroke="#333333" stroke-width="1.3"/><line x1="430.70" y1="248.68" x2="434.20" y2="248.68" stroke="#333333" stroke-width="1.3"/><line x1="430.70" y1="238.24" x2="432.70" y2="238.24" stroke="#333333" stroke-width="1.3"/><line x1="430.70" y1="227.80" x2="434.20" y2="227.80" stroke="#333333" stroke-width="1.3"/><defs><clipPath id="cpr"><rect x="430.7" y="19" width="204.3" height="313.2"/></clipPath></defs><g clip-path="url(#cpr)"><path d="M446.7 18.9L450.6 25.8L442.8 25.8Z" fill="#0000ff"/><path d="M462.5 29.3L466.4 36.2L458.6 36.2Z" fill="#0000ff"/><path d="M478.2 46.9L482.1 53.9L474.3 53.9Z" fill="#0000ff"/><path d="M494.0 55.1L497.9 62.1L490.1 62.1Z" fill="#0000ff"/><path d="M509.7 55.9L513.6 62.9L505.8 62.9Z" fill="#0000ff"/><path d="M519.1 61.3L523.0 68.2L515.2 68.2Z" fill="#0000ff"/><circle cx="462.2" cy="90.2" r="3.3" fill="#800000"/><circle cx="493.7" cy="102.5" r="3.3" fill="#800000"/><circle cx="525.1" cy="98.6" r="3.3" fill="#800000"/><circle cx="556.6" cy="100.5" r="3.3" fill="#800000"/><circle cx="588.1" cy="96.8" r="3.3" fill="#800000"/><path d="M446.7 201.2L450.6 208.0L442.8 208.0Z" fill="#00009c"/><path d="M462.5 212.2L466.4 219.0L458.6 219.0Z" fill="#00009c"/><path d="M478.2 183.0L482.1 189.8L474.3 189.8Z" fill="#00009c"/><path d="M494.0 209.9L497.9 216.8L490.1 216.8Z" fill="#00009c"/><path d="M509.7 205.9L513.6 212.8L505.8 212.8Z" fill="#00009c"/><path d="M525.4 152.9L529.3 159.8L521.5 159.8Z" fill="#00009c"/><path d="M541.2 156.2L545.1 163.0L537.3 163.0Z" fill="#00009c"/><circle cx="462.2" cy="219.9" r="3.3" fill="#ff8c00"/><circle cx="493.7" cy="211.4" r="3.3" fill="#ff8c00"/><circle cx="525.1" cy="214.0" r="3.3" fill="#ff8c00"/><circle cx="544.0" cy="213.6" r="3.3" fill="#ff8c00"/><path d="M446.7 268.7L450.6 275.6L442.8 275.6Z" fill="#00ffff"/><path d="M462.5 298.6L466.4 305.4L458.6 305.4Z" fill="#00ffff"/><path d="M478.2 297.2L482.1 304.1L474.3 304.1Z" fill="#00ffff"/><path d="M494.0 305.1L497.9 311.9L490.1 311.9Z" fill="#00ffff"/><path d="M509.7 309.9L513.6 316.8L505.8 316.8Z" fill="#00ffff"/><path d="M525.4 288.2L529.3 295.1L521.5 295.1Z" fill="#00ffff"/><path d="M531.7 269.7L535.6 276.6L527.8 276.6Z" fill="#00ffff"/><circle cx="462.2" cy="331.6" r="3.3" fill="#ff0000"/><circle cx="493.7" cy="331.6" r="3.3" fill="#ff0000"/><circle cx="525.1" cy="329.0" r="3.3" fill="#ff0000"/><circle cx="556.6" cy="325.7" r="3.3" fill="#ff0000"/><circle cx="588.1" cy="321.7" r="3.3" fill="#ff0000"/><circle cx="619.6" cy="318.3" r="3.3" fill="#ff0000"/></g><rect x="541.4" y="19.0" width="94.1" height="35.2" fill="#fff" stroke="#8a8a8a" stroke-width="1"/><path d="M555.5 23.5L559.2 29.5L551.8 29.5Z" fill="#0000ff"/><text x="570.5" y="30.7" font-size="11.1" fill="#111">PSF-1.7<tspan dy="2.9" font-size="9.4">140h</tspan></text><circle cx="555.5" cy="43.5" r="2.9" fill="#800000"/><text x="570.5" y="46.3" font-size="11.1" fill="#111">PSF-1.5<tspan dy="2.9" font-size="9.4">250h</tspan></text><rect x="544.4" y="123.2" width="91.1" height="33.4" fill="#fff" stroke="#8a8a8a" stroke-width="1"/><path d="M556.7 127.3L560.4 133.3L553.0 133.3Z" fill="#00009c"/><text x="573.0" y="134.6" font-size="11.1" fill="#111">PSF-1.7<tspan dy="2.9" font-size="9.4">175h</tspan></text><circle cx="556.7" cy="147.2" r="2.9" fill="#ff8c00"/><text x="573.0" y="151.3" font-size="11.1" fill="#111">PSF-1.5<tspan dy="2.9" font-size="9.4">180h</tspan></text><rect x="541.8" y="227.8" width="93.7" height="35.0" fill="#fff" stroke="#8a8a8a" stroke-width="1"/><path d="M555.1 231.8L558.8 237.8L551.4 237.8Z" fill="#00ffff"/><text x="570.4" y="239.2" font-size="11.1" fill="#111">PSF-1.7<tspan dy="2.9" font-size="9.4">160h</tspan></text><circle cx="555.1" cy="251.0" r="2.9" fill="#ff0000"/><text x="570.4" y="255.8" font-size="11.1" fill="#111">PSF-1.5<tspan dy="2.9" font-size="9.4">300h</tspan></text><text x="615.4" y="66.7" font-size="13.1" text-anchor="start" font-weight="normal" fill="#111" >(b)</text><text x="615.4" y="169.8" font-size="13.1" text-anchor="start" font-weight="normal" fill="#111" >(c)</text><text x="615.4" y="275.4" font-size="13.1" text-anchor="start" font-weight="normal" fill="#111" >(d)</text><line x1="433.90" y1="116.30" x2="478.20" y2="116.30" stroke="#000" stroke-width="1.4"/><path d="M430.9 116.3L435.9 113.9L435.9 118.7Z" fill="#000"/><path d="M481.2 116.3L476.2 113.9L476.2 118.7Z" fill="#000"/><line x1="482.80" y1="116.30" x2="594.10" y2="116.30" stroke="#000" stroke-width="1.4"/><path d="M597.1 116.3L592.1 113.9L592.1 118.7Z" fill="#000"/><line x1="434.80" y1="128.50" x2="478.20" y2="128.50" stroke="#000" stroke-width="1.4"/><path d="M431.8 128.5L436.8 126.1L436.8 130.9Z" fill="#000"/><path d="M481.2 128.5L476.2 126.1L476.2 130.9Z" fill="#000"/><line x1="486.60" y1="128.50" x2="541.20" y2="128.50" stroke="#000" stroke-width="1.4"/><path d="M483.6 128.5L488.6 126.1L488.6 130.9Z" fill="#000"/><path d="M544.2 128.5L539.2 126.1L539.2 130.9Z" fill="#000"/><line x1="433.90" y1="232.00" x2="509.80" y2="232.00" stroke="#000" stroke-width="1.4"/><path d="M430.9 232.0L435.9 229.6L435.9 234.4Z" fill="#000"/><path d="M512.8 232.0L507.8 229.6L507.8 234.4Z" fill="#000"/><line x1="512.80" y1="232.00" x2="538.90" y2="232.00" stroke="#000" stroke-width="1.4"/><path d="M541.9 232.0L536.9 229.6L536.9 234.4Z" fill="#000"/><text x="435.3" y="112.8" font-size="10.0" text-anchor="start" font-weight="normal" fill="#222" letter-spacing="0.75">61/61/61</text><text x="522.6" y="113.6" font-size="10.0" text-anchor="start" font-weight="normal" fill="#222" letter-spacing="0.75">62/61/62</text><text x="434.4" y="139.0" font-size="10.0" text-anchor="start" font-weight="normal" fill="#222" letter-spacing="0.75">60/62/60</text><text x="495.6" y="139.0" font-size="10.0" text-anchor="start" font-weight="normal" fill="#222" letter-spacing="0.75">63/62/63</text><text x="438.8" y="242.8" font-size="10.0" text-anchor="start" font-weight="normal" fill="#222" letter-spacing="0.75">63/65/65</text><text x="497.3" y="244.0" font-size="10.0" text-anchor="start" font-weight="normal" fill="#222" letter-spacing="0.75">65/65/66</text><text x="430.7" y="9.5" font-size="12.1" text-anchor="middle" font-weight="normal" fill="#111" >0</text><text x="430.7" y="346.6" font-size="12.1" text-anchor="middle" font-weight="normal" fill="#111" >0</text><text x="462.2" y="9.5" font-size="12.1" text-anchor="middle" font-weight="normal" fill="#111" >50</text><text x="462.2" y="346.6" font-size="12.1" text-anchor="middle" font-weight="normal" fill="#111" >50</text><text x="493.7" y="9.5" font-size="12.1" text-anchor="middle" font-weight="normal" fill="#111" >100</text><text x="493.7" y="346.6" font-size="12.1" text-anchor="middle" font-weight="normal" fill="#111" >100</text><text x="525.1" y="9.5" font-size="12.1" text-anchor="middle" font-weight="normal" fill="#111" >150</text><text x="525.1" y="346.6" font-size="12.1" text-anchor="middle" font-weight="normal" fill="#111" >150</text><text x="556.6" y="9.5" font-size="12.1" text-anchor="middle" font-weight="normal" fill="#111" >200</text><text x="556.6" y="346.6" font-size="12.1" text-anchor="middle" font-weight="normal" fill="#111" >200</text><text x="588.1" y="9.5" font-size="12.1" text-anchor="middle" font-weight="normal" fill="#111" >250</text><text x="588.1" y="346.6" font-size="12.1" text-anchor="middle" font-weight="normal" fill="#111" >250</text><text x="619.6" y="9.5" font-size="12.1" text-anchor="middle" font-weight="normal" fill="#111" >300</text><text x="619.6" y="346.6" font-size="12.1" text-anchor="middle" font-weight="normal" fill="#111" >300</text><text x="426.9" y="23.5" font-size="12.1" text-anchor="end" font-weight="normal" fill="#111" >2.5</text><text x="426.9" y="44.3" font-size="12.1" text-anchor="end" font-weight="normal" fill="#111" >2.0</text><text x="426.9" y="65.2" font-size="12.1" text-anchor="end" font-weight="normal" fill="#111" >1.5</text><text x="426.9" y="86.0" font-size="12.1" text-anchor="end" font-weight="normal" fill="#111" >1.0</text><text x="426.9" y="106.9" font-size="12.1" text-anchor="end" font-weight="normal" fill="#111" >0.5</text><text x="426.9" y="127.7" font-size="12.1" text-anchor="end" font-weight="normal" fill="#111" >0.0</text><text x="426.9" y="148.6" font-size="12.1" text-anchor="end" font-weight="normal" fill="#111" >2.0</text><text x="426.9" y="169.5" font-size="12.1" text-anchor="end" font-weight="normal" fill="#111" >1.5</text><text x="426.9" y="190.5" font-size="12.1" text-anchor="end" font-weight="normal" fill="#111" >1.0</text><text x="426.9" y="211.4" font-size="12.1" text-anchor="end" font-weight="normal" fill="#111" >0.5</text><text x="426.9" y="232.3" font-size="12.1" text-anchor="end" font-weight="normal" fill="#111" >0.0</text><text x="426.9" y="253.2" font-size="12.1" text-anchor="end" font-weight="normal" fill="#111" >2.0</text><text x="426.9" y="274.1" font-size="12.1" text-anchor="end" font-weight="normal" fill="#111" >1.5</text><text x="426.9" y="294.9" font-size="12.1" text-anchor="end" font-weight="normal" fill="#111" >1.0</text><text x="426.9" y="315.8" font-size="12.1" text-anchor="end" font-weight="normal" fill="#111" >0.5</text><text x="426.9" y="336.7" font-size="12.1" text-anchor="end" font-weight="normal" fill="#111" >0.0</text><text x="526.3" y="361.3" font-size="11.7" text-anchor="middle" font-weight="bold" fill="#111" >Time (h)</text><text transform="translate(406.0,122.1) rotate(-90)" font-size="11.75" font-weight="bold" fill="#111">Decay Rate (mV h<tspan font-size="7.8" dy="-4.2">-1</tspan><tspan dy="4.2">)</tspan></text><text transform="translate(406.0,230.8) rotate(-90)" font-size="11.75" font-weight="bold" fill="#111">Decay Rate (mV h<tspan font-size="7.8" dy="-4.2">-1</tspan><tspan dy="4.2">)</tspan></text><text transform="translate(406.0,338.0) rotate(-90)" font-size="11.75" font-weight="bold" fill="#111">Decay Rate (mV h<tspan font-size="7.8" dy="-4.2">-1</tspan><tspan dy="4.2">)</tspan></text></svg></body></html>
